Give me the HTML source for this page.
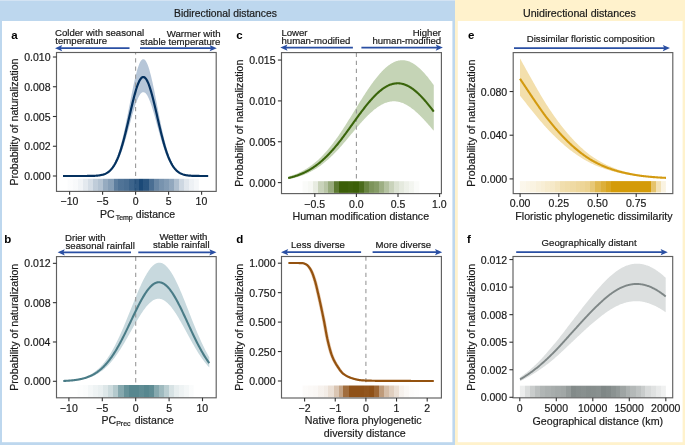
<!DOCTYPE html><html><head><meta charset="utf-8"><style>html,body{margin:0;padding:0;background:#fff}svg{display:block;will-change:transform}text{font-family:"Liberation Sans",sans-serif}</style></head><body>
<svg width="685" height="445" viewBox="0 0 685 445">
<rect x="0" y="0" width="455" height="445" fill="#bdd7ee"/>
<rect x="0" y="0" width="455" height="1" fill="#d3e3f3"/>
<rect x="455" y="0" width="230" height="445" fill="#fff2cc"/>
<rect x="2" y="21" width="450.4" height="421.2" fill="#fff"/>
<rect x="457.8" y="21" width="224.8" height="421.2" fill="#fff"/>
<text x="174.05" y="16.50" font-size="10.60" textLength="102.82" lengthAdjust="spacingAndGlyphs" fill="#1a1a1a" stroke="#1a1a1a" stroke-width="0.20">Bidirectional distances</text>
<text x="522.98" y="16.50" font-size="10.60" textLength="112.81" lengthAdjust="spacingAndGlyphs" fill="#1a1a1a" stroke="#1a1a1a" stroke-width="0.20">Unidirectional distances</text>
<text x="11.36" y="39.00" font-size="11.50" font-weight="bold" fill="#000">a</text>
<text x="4.14" y="243.00" font-size="11.50" font-weight="bold" fill="#000">b</text>
<text x="236.35" y="39.00" font-size="11.50" font-weight="bold" fill="#000">c</text>
<text x="236.33" y="243.00" font-size="11.50" font-weight="bold" fill="#000">d</text>
<text x="468.05" y="39.00" font-size="11.50" font-weight="bold" fill="#000">e</text>
<text x="467.00" y="243.00" font-size="11.50" font-weight="bold" fill="#000">f</text>
<path d="M63.00,176.00 L63.61,176.00 L64.22,176.00 L64.82,176.00 L65.43,176.00 L66.04,176.00 L66.65,176.00 L67.25,176.00 L67.86,176.00 L68.47,176.00 L69.08,176.00 L69.68,176.00 L70.29,176.00 L70.90,176.00 L71.51,176.00 L72.11,176.00 L72.72,176.00 L73.33,176.00 L73.94,176.00 L74.54,176.00 L75.15,176.00 L75.76,176.00 L76.37,176.00 L76.97,176.00 L77.58,176.00 L78.19,176.00 L78.80,176.00 L79.40,176.00 L80.01,176.00 L80.62,176.00 L81.23,176.00 L81.83,175.99 L82.44,175.99 L83.05,175.99 L83.66,175.99 L84.26,175.99 L84.87,175.99 L85.48,175.98 L86.09,175.98 L86.69,175.97 L87.30,175.97 L87.91,175.96 L88.52,175.96 L89.12,175.95 L89.73,175.94 L90.34,175.93 L90.95,175.91 L91.55,175.90 L92.16,175.88 L92.77,175.86 L93.38,175.83 L93.98,175.80 L94.59,175.77 L95.20,175.73 L95.81,175.69 L96.41,175.64 L97.02,175.58 L97.63,175.51 L98.24,175.43 L98.84,175.35 L99.45,175.25 L100.06,175.14 L100.67,175.01 L101.27,174.87 L101.88,174.71 L102.49,174.53 L103.10,174.32 L103.70,174.09 L104.31,173.84 L104.92,173.56 L105.53,173.24 L106.13,172.89 L106.74,172.50 L107.35,172.07 L107.96,171.60 L108.56,171.08 L109.17,170.51 L109.78,169.88 L110.39,169.20 L110.99,168.45 L111.60,167.64 L112.21,166.76 L112.82,165.81 L113.43,164.78 L114.03,163.67 L114.64,162.47 L115.25,161.19 L115.86,159.82 L116.46,158.36 L117.07,156.80 L117.68,155.15 L118.29,153.39 L118.89,151.54 L119.50,149.58 L120.11,147.53 L120.72,145.37 L121.32,143.11 L121.93,140.76 L122.54,138.31 L123.15,135.77 L123.75,133.14 L124.36,130.43 L124.97,127.63 L125.58,124.77 L126.18,121.84 L126.79,118.86 L127.40,115.83 L128.01,112.76 L128.61,109.66 L129.22,106.54 L129.83,103.42 L130.44,100.31 L131.04,97.22 L131.65,94.15 L132.26,91.14 L132.87,88.18 L133.47,85.30 L134.08,82.50 L134.69,79.80 L135.30,77.22 L135.90,74.76 L136.51,72.44 L137.12,70.28 L137.73,68.28 L138.33,66.45 L138.94,64.81 L139.55,63.36 L140.16,62.12 L140.76,61.08 L141.37,60.26 L141.98,59.66 L142.59,59.28 L143.19,59.13 L143.80,59.20 L144.41,59.50 L145.02,60.02 L145.62,60.77 L146.23,61.73 L146.84,62.90 L147.45,64.28 L148.05,65.86 L148.66,67.62 L149.27,69.56 L149.88,71.67 L150.48,73.94 L151.09,76.35 L151.70,78.89 L152.31,81.55 L152.91,84.31 L153.52,87.17 L154.13,90.10 L154.74,93.10 L155.34,96.14 L155.95,99.23 L156.56,102.34 L157.17,105.46 L157.77,108.57 L158.38,111.68 L158.99,114.76 L159.60,117.81 L160.21,120.81 L160.81,123.76 L161.42,126.64 L162.03,129.46 L162.64,132.20 L163.24,134.86 L163.85,137.44 L164.46,139.92 L165.07,142.30 L165.67,144.60 L166.28,146.79 L166.89,148.88 L167.50,150.87 L168.10,152.76 L168.71,154.55 L169.32,156.24 L169.93,157.83 L170.53,159.32 L171.14,160.73 L171.75,162.04 L172.36,163.26 L172.96,164.40 L173.57,165.46 L174.18,166.44 L174.79,167.34 L175.39,168.18 L176.00,168.95 L176.61,169.65 L177.22,170.30 L177.82,170.89 L178.43,171.42 L179.04,171.91 L179.65,172.36 L180.25,172.76 L180.86,173.12 L181.47,173.45 L182.08,173.74 L182.68,174.01 L183.29,174.25 L183.90,174.46 L184.51,174.65 L185.11,174.81 L185.72,174.96 L186.33,175.10 L186.94,175.21 L187.54,175.32 L188.15,175.41 L188.76,175.49 L189.37,175.56 L189.97,175.62 L190.58,175.67 L191.19,175.72 L191.80,175.76 L192.40,175.79 L193.01,175.82 L193.62,175.85 L194.23,175.87 L194.83,175.89 L195.44,175.91 L196.05,175.92 L196.66,175.93 L197.26,175.94 L197.87,175.95 L198.48,175.96 L199.09,175.97 L199.69,175.97 L200.30,175.98 L200.91,175.98 L201.52,175.98 L202.12,175.99 L202.73,175.99 L203.34,175.99 L203.95,175.99 L204.55,175.99 L205.16,175.99 L205.77,176.00 L206.38,176.00 L206.98,176.00 L207.59,176.00 L208.20,176.00 L208.20,176.00 L207.59,176.00 L206.98,176.00 L206.38,176.00 L205.77,176.00 L205.16,176.00 L204.55,176.00 L203.95,175.99 L203.34,175.99 L202.73,175.99 L202.12,175.99 L201.52,175.99 L200.91,175.99 L200.30,175.98 L199.69,175.98 L199.09,175.98 L198.48,175.97 L197.87,175.97 L197.26,175.96 L196.66,175.95 L196.05,175.94 L195.44,175.93 L194.83,175.92 L194.23,175.91 L193.62,175.89 L193.01,175.87 L192.40,175.85 L191.80,175.83 L191.19,175.80 L190.58,175.76 L189.97,175.72 L189.37,175.68 L188.76,175.63 L188.15,175.57 L187.54,175.51 L186.94,175.43 L186.33,175.35 L185.72,175.26 L185.11,175.15 L184.51,175.03 L183.90,174.89 L183.29,174.74 L182.68,174.57 L182.08,174.38 L181.47,174.17 L180.86,173.94 L180.25,173.67 L179.65,173.39 L179.04,173.07 L178.43,172.72 L177.82,172.33 L177.22,171.91 L176.61,171.44 L176.00,170.94 L175.39,170.39 L174.79,169.79 L174.18,169.14 L173.57,168.44 L172.96,167.68 L172.36,166.86 L171.75,165.98 L171.14,165.04 L170.53,164.04 L169.93,162.96 L169.32,161.82 L168.71,160.61 L168.10,159.32 L167.50,157.97 L166.89,156.54 L166.28,155.04 L165.67,153.47 L165.07,151.82 L164.46,150.11 L163.85,148.33 L163.24,146.48 L162.64,144.58 L162.03,142.61 L161.42,140.59 L160.81,138.52 L160.21,136.40 L159.60,134.25 L158.99,132.06 L158.38,129.85 L157.77,127.62 L157.17,125.39 L156.56,123.15 L155.95,120.92 L155.34,118.70 L154.74,116.52 L154.13,114.37 L153.52,112.26 L152.91,110.21 L152.31,108.23 L151.70,106.32 L151.09,104.50 L150.48,102.77 L149.88,101.15 L149.27,99.63 L148.66,98.24 L148.05,96.97 L147.45,95.84 L146.84,94.86 L146.23,94.01 L145.62,93.32 L145.02,92.79 L144.41,92.41 L143.80,92.20 L143.19,92.14 L142.59,92.25 L141.98,92.53 L141.37,92.96 L140.76,93.55 L140.16,94.29 L139.55,95.18 L138.94,96.22 L138.33,97.40 L137.73,98.71 L137.12,100.15 L136.51,101.70 L135.90,103.36 L135.30,105.12 L134.69,106.98 L134.08,108.91 L133.47,110.92 L132.87,112.99 L132.26,115.11 L131.65,117.28 L131.04,119.47 L130.44,121.69 L129.83,123.93 L129.22,126.17 L128.61,128.40 L128.01,130.62 L127.40,132.83 L126.79,135.00 L126.18,137.14 L125.58,139.24 L124.97,141.30 L124.36,143.30 L123.75,145.25 L123.15,147.13 L122.54,148.96 L121.93,150.72 L121.32,152.40 L120.72,154.02 L120.11,155.57 L119.50,157.05 L118.89,158.45 L118.29,159.78 L117.68,161.04 L117.07,162.23 L116.46,163.34 L115.86,164.39 L115.25,165.38 L114.64,166.30 L114.03,167.15 L113.43,167.95 L112.82,168.69 L112.21,169.37 L111.60,170.00 L110.99,170.59 L110.39,171.12 L109.78,171.61 L109.17,172.06 L108.56,172.47 L107.96,172.84 L107.35,173.18 L106.74,173.49 L106.13,173.77 L105.53,174.02 L104.92,174.25 L104.31,174.45 L103.70,174.63 L103.10,174.80 L102.49,174.94 L101.88,175.07 L101.27,175.19 L100.67,175.29 L100.06,175.38 L99.45,175.46 L98.84,175.53 L98.24,175.59 L97.63,175.65 L97.02,175.70 L96.41,175.74 L95.81,175.78 L95.20,175.81 L94.59,175.83 L93.98,175.86 L93.38,175.88 L92.77,175.90 L92.16,175.91 L91.55,175.93 L90.95,175.94 L90.34,175.95 L89.73,175.96 L89.12,175.96 L88.52,175.97 L87.91,175.97 L87.30,175.98 L86.69,175.98 L86.09,175.98 L85.48,175.99 L84.87,175.99 L84.26,175.99 L83.66,175.99 L83.05,175.99 L82.44,175.99 L81.83,176.00 L81.23,176.00 L80.62,176.00 L80.01,176.00 L79.40,176.00 L78.80,176.00 L78.19,176.00 L77.58,176.00 L76.97,176.00 L76.37,176.00 L75.76,176.00 L75.15,176.00 L74.54,176.00 L73.94,176.00 L73.33,176.00 L72.72,176.00 L72.11,176.00 L71.51,176.00 L70.90,176.00 L70.29,176.00 L69.68,176.00 L69.08,176.00 L68.47,176.00 L67.86,176.00 L67.25,176.00 L66.65,176.00 L66.04,176.00 L65.43,176.00 L64.82,176.00 L64.22,176.00 L63.61,176.00 L63.00,176.00 Z" fill="#b6c6d8" fill-opacity="1.000"/>
<line x1="135.60" y1="52.50" x2="135.60" y2="191.40" stroke="#999999" stroke-width="1.1" stroke-dasharray="4.3 3.8" stroke-dashoffset="2.30"/>
<defs><linearGradient id="rg1" gradientUnits="userSpaceOnUse" x1="67.60" y1="0" x2="198.90" y2="0"><stop offset="0.00000" stop-color="#1b4977" stop-opacity="0.014"/><stop offset="0.04037" stop-color="#1b4977" stop-opacity="0.014"/><stop offset="0.04037" stop-color="#1b4977" stop-opacity="0.029"/><stop offset="0.07997" stop-color="#1b4977" stop-opacity="0.029"/><stop offset="0.07997" stop-color="#1b4977" stop-opacity="0.060"/><stop offset="0.12034" stop-color="#1b4977" stop-opacity="0.060"/><stop offset="0.12034" stop-color="#1b4977" stop-opacity="0.119"/><stop offset="0.15537" stop-color="#1b4977" stop-opacity="0.119"/><stop offset="0.15537" stop-color="#1b4977" stop-opacity="0.183"/><stop offset="0.19573" stop-color="#1b4977" stop-opacity="0.183"/><stop offset="0.19573" stop-color="#1b4977" stop-opacity="0.276"/><stop offset="0.23153" stop-color="#1b4977" stop-opacity="0.276"/><stop offset="0.23153" stop-color="#1b4977" stop-opacity="0.330"/><stop offset="0.27113" stop-color="#1b4977" stop-opacity="0.330"/><stop offset="0.27113" stop-color="#1b4977" stop-opacity="0.461"/><stop offset="0.31150" stop-color="#1b4977" stop-opacity="0.461"/><stop offset="0.31150" stop-color="#1b4977" stop-opacity="0.528"/><stop offset="0.35110" stop-color="#1b4977" stop-opacity="0.528"/><stop offset="0.35110" stop-color="#1b4977" stop-opacity="0.708"/><stop offset="0.38690" stop-color="#1b4977" stop-opacity="0.708"/><stop offset="0.38690" stop-color="#1b4977" stop-opacity="0.769"/><stop offset="0.42727" stop-color="#1b4977" stop-opacity="0.769"/><stop offset="0.42727" stop-color="#1b4977" stop-opacity="0.794"/><stop offset="0.46687" stop-color="#1b4977" stop-opacity="0.794"/><stop offset="0.46687" stop-color="#1b4977" stop-opacity="0.853"/><stop offset="0.50647" stop-color="#1b4977" stop-opacity="0.853"/><stop offset="0.50647" stop-color="#1b4977" stop-opacity="0.903"/><stop offset="0.54227" stop-color="#1b4977" stop-opacity="0.903"/><stop offset="0.54227" stop-color="#1b4977" stop-opacity="1.000"/><stop offset="0.57730" stop-color="#1b4977" stop-opacity="1.000"/><stop offset="0.57730" stop-color="#1b4977" stop-opacity="0.935"/><stop offset="0.61767" stop-color="#1b4977" stop-opacity="0.935"/><stop offset="0.61767" stop-color="#1b4977" stop-opacity="0.794"/><stop offset="0.65804" stop-color="#1b4977" stop-opacity="0.794"/><stop offset="0.65804" stop-color="#1b4977" stop-opacity="0.665"/><stop offset="0.69307" stop-color="#1b4977" stop-opacity="0.665"/><stop offset="0.69307" stop-color="#1b4977" stop-opacity="0.593"/><stop offset="0.73343" stop-color="#1b4977" stop-opacity="0.593"/><stop offset="0.73343" stop-color="#1b4977" stop-opacity="0.547"/><stop offset="0.77304" stop-color="#1b4977" stop-opacity="0.547"/><stop offset="0.77304" stop-color="#1b4977" stop-opacity="0.480"/><stop offset="0.80883" stop-color="#1b4977" stop-opacity="0.480"/><stop offset="0.80883" stop-color="#1b4977" stop-opacity="0.351"/><stop offset="0.84920" stop-color="#1b4977" stop-opacity="0.351"/><stop offset="0.84920" stop-color="#1b4977" stop-opacity="0.219"/><stop offset="0.88880" stop-color="#1b4977" stop-opacity="0.219"/><stop offset="0.88880" stop-color="#1b4977" stop-opacity="0.133"/><stop offset="0.92460" stop-color="#1b4977" stop-opacity="0.133"/><stop offset="0.92460" stop-color="#1b4977" stop-opacity="0.076"/><stop offset="0.96497" stop-color="#1b4977" stop-opacity="0.076"/><stop offset="0.96497" stop-color="#1b4977" stop-opacity="0.044"/><stop offset="1.00000" stop-color="#1b4977" stop-opacity="0.044"/></linearGradient></defs>
<rect x="67.60" y="178.80" width="131.30" height="12.10" fill="url(#rg1)"/>
<path d="M63.00,176.00 L63.61,176.00 L64.22,176.00 L64.82,176.00 L65.43,176.00 L66.04,176.00 L66.65,176.00 L67.25,176.00 L67.86,176.00 L68.47,176.00 L69.08,176.00 L69.68,176.00 L70.29,176.00 L70.90,176.00 L71.51,176.00 L72.11,176.00 L72.72,176.00 L73.33,176.00 L73.94,176.00 L74.54,176.00 L75.15,176.00 L75.76,176.00 L76.37,176.00 L76.97,176.00 L77.58,176.00 L78.19,176.00 L78.80,176.00 L79.40,176.00 L80.01,176.00 L80.62,176.00 L81.23,176.00 L81.83,176.00 L82.44,175.99 L83.05,175.99 L83.66,175.99 L84.26,175.99 L84.87,175.99 L85.48,175.98 L86.09,175.98 L86.69,175.98 L87.30,175.97 L87.91,175.97 L88.52,175.96 L89.12,175.96 L89.73,175.95 L90.34,175.94 L90.95,175.93 L91.55,175.91 L92.16,175.90 L92.77,175.88 L93.38,175.86 L93.98,175.83 L94.59,175.80 L95.20,175.77 L95.81,175.73 L96.41,175.69 L97.02,175.64 L97.63,175.59 L98.24,175.52 L98.84,175.45 L99.45,175.36 L100.06,175.27 L100.67,175.16 L101.27,175.04 L101.88,174.90 L102.49,174.75 L103.10,174.58 L103.70,174.39 L104.31,174.17 L104.92,173.93 L105.53,173.66 L106.13,173.37 L106.74,173.04 L107.35,172.67 L107.96,172.27 L108.56,171.83 L109.17,171.35 L109.78,170.82 L110.39,170.24 L110.99,169.61 L111.60,168.92 L112.21,168.17 L112.82,167.37 L113.43,166.49 L114.03,165.55 L114.64,164.54 L115.25,163.46 L115.86,162.30 L116.46,161.06 L117.07,159.74 L117.68,158.34 L118.29,156.85 L118.89,155.28 L119.50,153.62 L120.11,151.88 L120.72,150.06 L121.32,148.14 L121.93,146.15 L122.54,144.08 L123.15,141.92 L123.75,139.69 L124.36,137.40 L124.97,135.03 L125.58,132.61 L126.18,130.13 L126.79,127.60 L127.40,125.03 L128.01,122.43 L128.61,119.81 L129.22,117.17 L129.83,114.52 L130.44,111.89 L131.04,109.27 L131.65,106.67 L132.26,104.12 L132.87,101.61 L133.47,99.17 L134.08,96.80 L134.69,94.51 L135.30,92.33 L135.90,90.25 L136.51,88.28 L137.12,86.45 L137.73,84.75 L138.33,83.21 L138.94,81.82 L139.55,80.59 L140.16,79.54 L140.76,78.66 L141.37,77.96 L141.98,77.45 L142.59,77.13 L143.19,77.00 L143.80,77.07 L144.41,77.32 L145.02,77.76 L145.62,78.39 L146.23,79.21 L146.84,80.20 L147.45,81.37 L148.05,82.70 L148.66,84.20 L149.27,85.84 L149.88,87.63 L150.48,89.55 L151.09,91.59 L151.70,93.74 L152.31,95.99 L152.91,98.33 L153.52,100.75 L154.13,103.24 L154.74,105.78 L155.34,108.36 L155.95,110.97 L156.56,113.60 L157.17,116.25 L157.77,118.89 L158.38,121.52 L158.99,124.13 L159.60,126.71 L160.21,129.25 L160.81,131.75 L161.42,134.19 L162.03,136.58 L162.64,138.90 L163.24,141.15 L163.85,143.33 L164.46,145.44 L165.07,147.46 L165.67,149.40 L166.28,151.26 L166.89,153.03 L167.50,154.71 L168.10,156.31 L168.71,157.83 L169.32,159.26 L169.93,160.61 L170.53,161.87 L171.14,163.06 L171.75,164.17 L172.36,165.21 L172.96,166.17 L173.57,167.07 L174.18,167.90 L174.79,168.67 L175.39,169.37 L176.00,170.03 L176.61,170.62 L177.22,171.17 L177.82,171.67 L178.43,172.12 L179.04,172.54 L179.65,172.91 L180.25,173.25 L180.86,173.56 L181.47,173.84 L182.08,174.09 L182.68,174.31 L183.29,174.51 L183.90,174.69 L184.51,174.85 L185.11,175.00 L185.72,175.12 L186.33,175.23 L186.94,175.33 L187.54,175.42 L188.15,175.50 L188.76,175.56 L189.37,175.62 L189.97,175.68 L190.58,175.72 L191.19,175.76 L191.80,175.79 L192.40,175.82 L193.01,175.85 L193.62,175.87 L194.23,175.89 L194.83,175.91 L195.44,175.92 L196.05,175.93 L196.66,175.94 L197.26,175.95 L197.87,175.96 L198.48,175.97 L199.09,175.97 L199.69,175.98 L200.30,175.98 L200.91,175.98 L201.52,175.99 L202.12,175.99 L202.73,175.99 L203.34,175.99 L203.95,175.99 L204.55,175.99 L205.16,176.00 L205.77,176.00 L206.38,176.00 L206.98,176.00 L207.59,176.00 L208.20,176.00" fill="none" stroke="#04315f" stroke-width="2.20" stroke-linejoin="round" stroke-linecap="butt"/>
<rect x="56.50" y="52.50" width="159.70" height="138.90" fill="none" stroke="#5f5f5f" stroke-width="1.15"/>
<line x1="52.90" y1="176.00" x2="56.50" y2="176.00" stroke="#333333" stroke-width="1.1"/>
<text x="24.17" y="180.00" font-size="11.00" textLength="26.34" lengthAdjust="spacingAndGlyphs" fill="#1a1a1a" stroke="#1a1a1a" stroke-width="0.20">0.000</text>
<line x1="52.90" y1="146.25" x2="56.50" y2="146.25" stroke="#333333" stroke-width="1.1"/>
<text x="24.29" y="150.25" font-size="11.00" textLength="26.34" lengthAdjust="spacingAndGlyphs" fill="#1a1a1a" stroke="#1a1a1a" stroke-width="0.20">0.002</text>
<line x1="52.90" y1="116.50" x2="56.50" y2="116.50" stroke="#333333" stroke-width="1.1"/>
<text x="24.20" y="120.50" font-size="11.00" textLength="26.34" lengthAdjust="spacingAndGlyphs" fill="#1a1a1a" stroke="#1a1a1a" stroke-width="0.20">0.005</text>
<line x1="52.90" y1="86.75" x2="56.50" y2="86.75" stroke="#333333" stroke-width="1.1"/>
<text x="24.21" y="90.75" font-size="11.00" textLength="26.34" lengthAdjust="spacingAndGlyphs" fill="#1a1a1a" stroke="#1a1a1a" stroke-width="0.20">0.008</text>
<line x1="52.90" y1="57.00" x2="56.50" y2="57.00" stroke="#333333" stroke-width="1.1"/>
<text x="24.17" y="61.00" font-size="11.00" textLength="26.34" lengthAdjust="spacingAndGlyphs" fill="#1a1a1a" stroke="#1a1a1a" stroke-width="0.20">0.010</text>
<line x1="69.60" y1="191.40" x2="69.60" y2="194.80" stroke="#333333" stroke-width="1.1"/>
<text x="60.62" y="205.40" font-size="11.00" textLength="17.86" lengthAdjust="spacingAndGlyphs" fill="#1a1a1a" stroke="#1a1a1a" stroke-width="0.20">−10</text>
<line x1="102.60" y1="191.40" x2="102.60" y2="194.80" stroke="#333333" stroke-width="1.1"/>
<text x="96.56" y="205.40" font-size="11.00" textLength="12.00" lengthAdjust="spacingAndGlyphs" fill="#1a1a1a" stroke="#1a1a1a" stroke-width="0.20">−5</text>
<line x1="135.60" y1="191.40" x2="135.60" y2="194.80" stroke="#333333" stroke-width="1.1"/>
<text x="132.67" y="205.40" font-size="11.00" textLength="5.85" lengthAdjust="spacingAndGlyphs" fill="#1a1a1a" stroke="#1a1a1a" stroke-width="0.20">0</text>
<line x1="168.60" y1="191.40" x2="168.60" y2="194.80" stroke="#333333" stroke-width="1.1"/>
<text x="165.68" y="205.40" font-size="11.00" textLength="5.85" lengthAdjust="spacingAndGlyphs" fill="#1a1a1a" stroke="#1a1a1a" stroke-width="0.20">5</text>
<line x1="201.60" y1="191.40" x2="201.60" y2="194.80" stroke="#333333" stroke-width="1.1"/>
<text x="195.55" y="205.40" font-size="11.00" textLength="11.71" lengthAdjust="spacingAndGlyphs" fill="#1a1a1a" stroke="#1a1a1a" stroke-width="0.20">10</text>
<text transform="translate(18.00,122.00) rotate(-90)" x="-63.62" y="0" font-size="11.00" textLength="127.06" lengthAdjust="spacingAndGlyphs" fill="#1a1a1a" stroke="#1a1a1a" stroke-width="0.20">Probability of naturalization</text>
<text x="100.04" y="218.30" font-size="11.00" textLength="14.62" lengthAdjust="spacingAndGlyphs" fill="#1a1a1a" stroke="#1a1a1a" stroke-width="0.20">PC</text>
<text x="115.64" y="220.40" font-size="7.00" fill="#1a1a1a" stroke="#1a1a1a" stroke-width="0.20">Temp</text>
<text x="135.86" y="218.30" font-size="11.00" textLength="39.21" lengthAdjust="spacingAndGlyphs" fill="#1a1a1a" stroke="#1a1a1a" stroke-width="0.20">distance</text>
<text x="55.01" y="35.50" font-size="9.75" textLength="89.11" lengthAdjust="spacingAndGlyphs" fill="#1a1a1a" stroke="#1a1a1a" stroke-width="0.20">Colder with seasonal</text>
<text x="55.35" y="43.60" font-size="9.75" textLength="51.76" lengthAdjust="spacingAndGlyphs" fill="#1a1a1a" stroke="#1a1a1a" stroke-width="0.20">temperature</text>
<text x="166.65" y="36.60" font-size="9.75" textLength="53.87" lengthAdjust="spacingAndGlyphs" fill="#1a1a1a" stroke="#1a1a1a" stroke-width="0.20">Warmer with</text>
<text x="140.28" y="45.30" font-size="9.75" textLength="80.04" lengthAdjust="spacingAndGlyphs" fill="#1a1a1a" stroke="#1a1a1a" stroke-width="0.20">stable temperature</text>
<line x1="60.00" y1="48.20" x2="129.50" y2="48.20" stroke="#2a4fa3" stroke-width="1.8"/>
<path d="M55.00,48.20 L62.20,45.10 L60.70,48.20 L62.20,51.30 Z" fill="#2a4fa3"/>
<line x1="140.00" y1="48.20" x2="211.80" y2="48.20" stroke="#2a4fa3" stroke-width="1.8"/>
<path d="M216.80,48.20 L209.60,45.10 L211.10,48.20 L209.60,51.30 Z" fill="#2a4fa3"/>
<path d="M63.30,380.84 L63.91,380.81 L64.52,380.77 L65.13,380.73 L65.74,380.69 L66.35,380.65 L66.97,380.61 L67.58,380.56 L68.19,380.51 L68.80,380.45 L69.41,380.39 L70.02,380.33 L70.63,380.27 L71.24,380.20 L71.85,380.12 L72.46,380.05 L73.07,379.97 L73.68,379.88 L74.30,379.79 L74.91,379.69 L75.52,379.59 L76.13,379.48 L76.74,379.37 L77.35,379.25 L77.96,379.12 L78.57,378.99 L79.18,378.84 L79.79,378.70 L80.40,378.54 L81.02,378.38 L81.63,378.20 L82.24,378.02 L82.85,377.83 L83.46,377.64 L84.07,377.43 L84.68,377.21 L85.29,376.98 L85.90,376.74 L86.51,376.49 L87.12,376.22 L87.74,375.95 L88.35,375.66 L88.96,375.36 L89.57,375.05 L90.18,374.72 L90.79,374.38 L91.40,374.02 L92.01,373.65 L92.62,373.27 L93.23,372.87 L93.84,372.45 L94.45,372.01 L95.07,371.56 L95.68,371.09 L96.29,370.61 L96.90,370.10 L97.51,369.58 L98.12,369.04 L98.73,368.47 L99.34,367.89 L99.95,367.29 L100.56,366.67 L101.17,366.03 L101.79,365.36 L102.40,364.68 L103.01,363.97 L103.62,363.24 L104.23,362.49 L104.84,361.71 L105.45,360.92 L106.06,360.10 L106.67,359.25 L107.28,358.39 L107.89,357.50 L108.51,356.58 L109.12,355.64 L109.73,354.68 L110.34,353.70 L110.95,352.69 L111.56,351.66 L112.17,350.60 L112.78,349.52 L113.39,348.42 L114.00,347.29 L114.61,346.14 L115.22,344.97 L115.84,343.78 L116.45,342.56 L117.06,341.33 L117.67,340.07 L118.28,338.79 L118.89,337.49 L119.50,336.17 L120.11,334.83 L120.72,333.48 L121.33,332.10 L121.94,330.71 L122.56,329.31 L123.17,327.88 L123.78,326.45 L124.39,325.00 L125.00,323.54 L125.61,322.06 L126.22,320.58 L126.83,319.08 L127.44,317.58 L128.05,316.07 L128.66,314.56 L129.27,313.04 L129.89,311.52 L130.50,309.99 L131.11,308.47 L131.72,306.94 L132.33,305.42 L132.94,303.90 L133.55,302.38 L134.16,300.87 L134.77,299.37 L135.38,297.88 L135.99,296.40 L136.61,294.93 L137.22,293.48 L137.83,292.04 L138.44,290.62 L139.05,289.22 L139.66,287.83 L140.27,286.47 L140.88,285.14 L141.49,283.82 L142.10,282.54 L142.71,281.28 L143.33,280.05 L143.94,278.85 L144.55,277.68 L145.16,276.55 L145.77,275.46 L146.38,274.39 L146.99,273.37 L147.60,272.39 L148.21,271.44 L148.82,270.54 L149.43,269.68 L150.04,268.87 L150.66,268.10 L151.27,267.37 L151.88,266.69 L152.49,266.06 L153.10,265.47 L153.71,264.93 L154.32,264.44 L154.93,264.00 L155.54,263.66 L156.15,263.37 L156.76,263.13 L157.38,262.94 L157.99,262.81 L158.60,262.73 L159.21,262.70 L159.82,262.72 L160.43,262.80 L161.04,262.92 L161.65,263.10 L162.26,263.34 L162.87,263.62 L163.48,263.96 L164.09,264.34 L164.71,264.78 L165.32,265.27 L165.93,265.81 L166.54,266.39 L167.15,267.03 L167.76,267.71 L168.37,268.44 L168.98,269.21 L169.59,270.03 L170.20,270.90 L170.81,271.80 L171.43,272.75 L172.04,273.74 L172.65,274.77 L173.26,275.84 L173.87,276.94 L174.48,278.09 L175.09,279.26 L175.70,280.47 L176.31,281.71 L176.92,282.98 L177.53,284.29 L178.15,285.61 L178.76,286.97 L179.37,288.35 L179.98,289.75 L180.59,291.17 L181.20,292.60 L181.81,294.06 L182.42,295.53 L183.03,297.01 L183.64,298.52 L184.25,300.03 L184.86,301.55 L185.48,303.09 L186.09,304.63 L186.70,306.18 L187.31,307.73 L187.92,309.29 L188.53,310.85 L189.14,312.41 L189.75,313.98 L190.36,315.54 L190.97,317.09 L191.58,318.65 L192.20,320.19 L192.81,321.73 L193.42,323.27 L194.03,324.79 L194.64,326.31 L195.25,327.81 L195.86,329.28 L196.47,330.75 L197.08,332.20 L197.69,333.64 L198.30,335.06 L198.92,336.46 L199.53,337.85 L200.14,339.22 L200.75,340.58 L201.36,341.91 L201.97,343.22 L202.58,344.52 L203.19,345.79 L203.80,347.04 L204.41,348.27 L205.02,349.48 L205.63,350.67 L206.25,351.83 L206.86,352.97 L207.47,354.09 L208.08,355.19 L208.69,356.26 L209.30,357.31 L209.30,367.53 L208.69,366.87 L208.08,366.19 L207.47,365.49 L206.86,364.78 L206.25,364.04 L205.63,363.29 L205.02,362.52 L204.41,361.74 L203.80,360.93 L203.19,360.11 L202.58,359.27 L201.97,358.42 L201.36,357.54 L200.75,356.65 L200.14,355.75 L199.53,354.83 L198.92,353.89 L198.30,352.93 L197.69,351.97 L197.08,350.98 L196.47,349.99 L195.86,348.98 L195.25,347.96 L194.64,346.92 L194.03,345.86 L193.42,344.80 L192.81,343.72 L192.20,342.64 L191.58,341.54 L190.97,340.44 L190.36,339.33 L189.75,338.22 L189.14,337.10 L188.53,335.98 L187.92,334.86 L187.31,333.73 L186.70,332.60 L186.09,331.47 L185.48,330.34 L184.86,329.22 L184.25,328.10 L183.64,326.98 L183.03,325.87 L182.42,324.77 L181.81,323.67 L181.20,322.58 L180.59,321.51 L179.98,320.44 L179.37,319.38 L178.76,318.34 L178.15,317.31 L177.53,316.30 L176.92,315.30 L176.31,314.33 L175.70,313.37 L175.09,312.44 L174.48,311.53 L173.87,310.64 L173.26,309.78 L172.65,308.94 L172.04,308.13 L171.43,307.34 L170.81,306.59 L170.20,305.86 L169.59,305.17 L168.98,304.51 L168.37,303.88 L167.76,303.28 L167.15,302.72 L166.54,302.19 L165.93,301.70 L165.32,301.24 L164.71,300.82 L164.09,300.44 L163.48,300.10 L162.87,299.79 L162.26,299.53 L161.65,299.30 L161.04,299.11 L160.43,298.96 L159.82,298.85 L159.21,298.78 L158.60,298.75 L157.99,298.76 L157.38,298.81 L156.76,298.90 L156.15,299.03 L155.54,299.20 L154.93,299.41 L154.32,299.69 L153.71,300.01 L153.10,300.37 L152.49,300.76 L151.88,301.20 L151.27,301.66 L150.66,302.16 L150.04,302.70 L149.43,303.27 L148.82,303.88 L148.21,304.51 L147.60,305.18 L146.99,305.87 L146.38,306.59 L145.77,307.35 L145.16,308.13 L144.55,308.93 L143.94,309.76 L143.33,310.61 L142.71,311.49 L142.10,312.39 L141.49,313.30 L140.88,314.24 L140.27,315.20 L139.66,316.17 L139.05,317.16 L138.44,318.16 L137.83,319.18 L137.22,320.21 L136.61,321.25 L135.99,322.30 L135.38,323.36 L134.77,324.42 L134.16,325.50 L133.55,326.58 L132.94,327.66 L132.33,328.75 L131.72,329.84 L131.11,330.93 L130.50,332.02 L129.89,333.10 L129.27,334.19 L128.66,335.28 L128.05,336.36 L127.44,337.43 L126.83,338.50 L126.22,339.56 L125.61,340.62 L125.00,341.67 L124.39,342.71 L123.78,343.74 L123.17,344.76 L122.56,345.76 L121.94,346.76 L121.33,347.75 L120.72,348.72 L120.11,349.67 L119.50,350.62 L118.89,351.55 L118.28,352.46 L117.67,353.36 L117.06,354.25 L116.45,355.12 L115.84,355.97 L115.22,356.81 L114.61,357.63 L114.00,358.43 L113.39,359.22 L112.78,359.99 L112.17,360.74 L111.56,361.48 L110.95,362.19 L110.34,362.89 L109.73,363.58 L109.12,364.24 L108.51,364.89 L107.89,365.52 L107.28,366.13 L106.67,366.73 L106.06,367.31 L105.45,367.87 L104.84,368.42 L104.23,368.95 L103.62,369.46 L103.01,369.96 L102.40,370.44 L101.79,370.91 L101.17,371.36 L100.56,371.80 L99.95,372.22 L99.34,372.62 L98.73,373.01 L98.12,373.39 L97.51,373.76 L96.90,374.11 L96.29,374.44 L95.68,374.77 L95.07,375.08 L94.45,375.38 L93.84,375.67 L93.23,375.95 L92.62,376.21 L92.01,376.47 L91.40,376.71 L90.79,376.94 L90.18,377.17 L89.57,377.38 L88.96,377.59 L88.35,377.78 L87.74,377.97 L87.12,378.15 L86.51,378.32 L85.90,378.48 L85.29,378.64 L84.68,378.78 L84.07,378.92 L83.46,379.06 L82.85,379.18 L82.24,379.30 L81.63,379.42 L81.02,379.53 L80.40,379.63 L79.79,379.73 L79.18,379.82 L78.57,379.91 L77.96,379.99 L77.35,380.07 L76.74,380.15 L76.13,380.22 L75.52,380.29 L74.91,380.35 L74.30,380.41 L73.68,380.47 L73.07,380.52 L72.46,380.57 L71.85,380.62 L71.24,380.66 L70.63,380.70 L70.02,380.74 L69.41,380.78 L68.80,380.81 L68.19,380.85 L67.58,380.88 L66.97,380.91 L66.35,380.93 L65.74,380.96 L65.13,380.98 L64.52,381.00 L63.91,381.02 L63.30,381.04 Z" fill="#c8d9de" fill-opacity="1.000"/>
<line x1="135.70" y1="256.60" x2="135.70" y2="397.80" stroke="#999999" stroke-width="1.1" stroke-dasharray="4.3 3.8" stroke-dashoffset="0.00"/>
<defs><linearGradient id="rg2" gradientUnits="userSpaceOnUse" x1="77.60" y1="0" x2="193.70" y2="0"><stop offset="0.00000" stop-color="#57878f" stop-opacity="0.016"/><stop offset="0.04565" stop-color="#57878f" stop-opacity="0.016"/><stop offset="0.04565" stop-color="#57878f" stop-opacity="0.027"/><stop offset="0.09044" stop-color="#57878f" stop-opacity="0.027"/><stop offset="0.09044" stop-color="#57878f" stop-opacity="0.066"/><stop offset="0.13609" stop-color="#57878f" stop-opacity="0.066"/><stop offset="0.13609" stop-color="#57878f" stop-opacity="0.099"/><stop offset="0.17571" stop-color="#57878f" stop-opacity="0.099"/><stop offset="0.17571" stop-color="#57878f" stop-opacity="0.130"/><stop offset="0.22136" stop-color="#57878f" stop-opacity="0.130"/><stop offset="0.22136" stop-color="#57878f" stop-opacity="0.200"/><stop offset="0.26184" stop-color="#57878f" stop-opacity="0.200"/><stop offset="0.26184" stop-color="#57878f" stop-opacity="0.300"/><stop offset="0.30663" stop-color="#57878f" stop-opacity="0.300"/><stop offset="0.30663" stop-color="#57878f" stop-opacity="0.448"/><stop offset="0.35228" stop-color="#57878f" stop-opacity="0.448"/><stop offset="0.35228" stop-color="#57878f" stop-opacity="0.723"/><stop offset="0.39707" stop-color="#57878f" stop-opacity="0.723"/><stop offset="0.39707" stop-color="#57878f" stop-opacity="0.910"/><stop offset="0.44272" stop-color="#57878f" stop-opacity="0.910"/><stop offset="0.44272" stop-color="#57878f" stop-opacity="1.000"/><stop offset="0.48493" stop-color="#57878f" stop-opacity="1.000"/><stop offset="0.48493" stop-color="#57878f" stop-opacity="1.000"/><stop offset="0.52799" stop-color="#57878f" stop-opacity="1.000"/><stop offset="0.52799" stop-color="#57878f" stop-opacity="0.955"/><stop offset="0.57278" stop-color="#57878f" stop-opacity="0.955"/><stop offset="0.57278" stop-color="#57878f" stop-opacity="1.000"/><stop offset="0.61326" stop-color="#57878f" stop-opacity="1.000"/><stop offset="0.61326" stop-color="#57878f" stop-opacity="0.955"/><stop offset="0.65805" stop-color="#57878f" stop-opacity="0.955"/><stop offset="0.65805" stop-color="#57878f" stop-opacity="0.723"/><stop offset="0.69854" stop-color="#57878f" stop-opacity="0.723"/><stop offset="0.69854" stop-color="#57878f" stop-opacity="0.574"/><stop offset="0.74419" stop-color="#57878f" stop-opacity="0.574"/><stop offset="0.74419" stop-color="#57878f" stop-opacity="0.415"/><stop offset="0.78381" stop-color="#57878f" stop-opacity="0.415"/><stop offset="0.78381" stop-color="#57878f" stop-opacity="0.238"/><stop offset="0.82946" stop-color="#57878f" stop-opacity="0.238"/><stop offset="0.82946" stop-color="#57878f" stop-opacity="0.144"/><stop offset="0.87425" stop-color="#57878f" stop-opacity="0.144"/><stop offset="0.87425" stop-color="#57878f" stop-opacity="0.099"/><stop offset="0.91473" stop-color="#57878f" stop-opacity="0.099"/><stop offset="0.91473" stop-color="#57878f" stop-opacity="0.066"/><stop offset="0.96038" stop-color="#57878f" stop-opacity="0.066"/><stop offset="0.96038" stop-color="#57878f" stop-opacity="0.027"/><stop offset="1.00000" stop-color="#57878f" stop-opacity="0.027"/></linearGradient></defs>
<rect x="77.60" y="385.00" width="116.10" height="12.40" fill="url(#rg2)"/>
<path d="M63.30,380.96 L63.91,380.93 L64.52,380.90 L65.13,380.87 L65.74,380.84 L66.35,380.81 L66.97,380.78 L67.58,380.74 L68.19,380.70 L68.80,380.66 L69.41,380.61 L70.02,380.56 L70.63,380.51 L71.24,380.46 L71.85,380.40 L72.46,380.34 L73.07,380.28 L73.68,380.21 L74.30,380.14 L74.91,380.06 L75.52,379.98 L76.13,379.90 L76.74,379.81 L77.35,379.71 L77.96,379.61 L78.57,379.51 L79.18,379.39 L79.79,379.28 L80.40,379.15 L81.02,379.02 L81.63,378.89 L82.24,378.74 L82.85,378.59 L83.46,378.43 L84.07,378.26 L84.68,378.09 L85.29,377.90 L85.90,377.71 L86.51,377.51 L87.12,377.30 L87.74,377.07 L88.35,376.84 L88.96,376.60 L89.57,376.35 L90.18,376.08 L90.79,375.80 L91.40,375.52 L92.01,375.21 L92.62,374.90 L93.23,374.57 L93.84,374.23 L94.45,373.88 L95.07,373.51 L95.68,373.13 L96.29,372.73 L96.90,372.32 L97.51,371.89 L98.12,371.44 L98.73,370.98 L99.34,370.50 L99.95,370.01 L100.56,369.50 L101.17,368.97 L101.79,368.42 L102.40,367.85 L103.01,367.27 L103.62,366.66 L104.23,366.04 L104.84,365.40 L105.45,364.74 L106.06,364.06 L106.67,363.36 L107.28,362.64 L107.89,361.90 L108.51,361.14 L109.12,360.36 L109.73,359.56 L110.34,358.74 L110.95,357.90 L111.56,357.03 L112.17,356.15 L112.78,355.25 L113.39,354.33 L114.00,353.39 L114.61,352.42 L115.22,351.44 L115.84,350.44 L116.45,349.42 L117.06,348.38 L117.67,347.33 L118.28,346.25 L118.89,345.16 L119.50,344.05 L120.11,342.93 L120.72,341.79 L121.33,340.63 L121.94,339.46 L122.56,338.27 L123.17,337.07 L123.78,335.86 L124.39,334.64 L125.00,333.41 L125.61,332.16 L126.22,330.91 L126.83,329.65 L127.44,328.38 L128.05,327.10 L128.66,325.82 L129.27,324.54 L129.89,323.25 L130.50,321.96 L131.11,320.67 L131.72,319.38 L132.33,318.09 L132.94,316.80 L133.55,315.52 L134.16,314.24 L134.77,312.97 L135.38,311.71 L135.99,310.45 L136.61,309.21 L137.22,307.98 L137.83,306.76 L138.44,305.56 L139.05,304.37 L139.66,303.20 L140.27,302.05 L140.88,300.92 L141.49,299.81 L142.10,298.72 L142.71,297.65 L143.33,296.62 L143.94,295.60 L144.55,294.62 L145.16,293.66 L145.77,292.74 L146.38,291.84 L146.99,290.98 L147.60,290.15 L148.21,289.36 L148.82,288.60 L149.43,287.88 L150.04,287.20 L150.66,286.56 L151.27,285.95 L151.88,285.39 L152.49,284.86 L153.10,284.38 L153.71,283.94 L154.32,283.55 L154.93,283.19 L155.54,282.92 L156.15,282.70 L156.76,282.53 L157.38,282.39 L157.99,282.31 L158.60,282.27 L159.21,282.27 L159.82,282.32 L160.43,282.42 L161.04,282.56 L161.65,282.75 L162.26,282.99 L162.87,283.26 L163.48,283.59 L164.09,283.96 L164.71,284.37 L165.32,284.82 L165.93,285.32 L166.54,285.86 L167.15,286.45 L167.76,287.07 L168.37,287.73 L168.98,288.43 L169.59,289.17 L170.20,289.95 L170.81,290.76 L171.43,291.61 L172.04,292.50 L172.65,293.41 L173.26,294.36 L173.87,295.34 L174.48,296.35 L175.09,297.39 L175.70,298.46 L176.31,299.55 L176.92,300.67 L177.53,301.81 L178.15,302.97 L178.76,304.16 L179.37,305.36 L179.98,306.58 L180.59,307.82 L181.20,309.06 L181.81,310.32 L182.42,311.60 L183.03,312.88 L183.64,314.18 L184.25,315.48 L184.86,316.79 L185.48,318.11 L186.09,319.43 L186.70,320.75 L187.31,322.08 L187.92,323.41 L188.53,324.74 L189.14,326.07 L189.75,327.39 L190.36,328.71 L190.97,330.03 L191.58,331.34 L192.20,332.64 L192.81,333.94 L193.42,335.23 L194.03,336.51 L194.64,337.77 L195.25,339.02 L195.86,340.26 L196.47,341.47 L197.08,342.68 L197.69,343.87 L198.30,345.05 L198.92,346.21 L199.53,347.35 L200.14,348.48 L200.75,349.59 L201.36,350.68 L201.97,351.75 L202.58,352.81 L203.19,353.84 L203.80,354.86 L204.41,355.86 L205.02,356.83 L205.63,357.79 L206.25,358.73 L206.86,359.64 L207.47,360.54 L208.08,361.41 L208.69,362.27 L209.30,363.10" fill="none" stroke="#4a7c87" stroke-width="2.10" stroke-linejoin="round" stroke-linecap="butt"/>
<rect x="56.50" y="256.60" width="159.70" height="141.20" fill="none" stroke="#5f5f5f" stroke-width="1.15"/>
<line x1="52.90" y1="381.30" x2="56.50" y2="381.30" stroke="#333333" stroke-width="1.1"/>
<text x="24.17" y="385.30" font-size="11.00" textLength="26.34" lengthAdjust="spacingAndGlyphs" fill="#1a1a1a" stroke="#1a1a1a" stroke-width="0.20">0.000</text>
<line x1="52.90" y1="341.98" x2="56.50" y2="341.98" stroke="#333333" stroke-width="1.1"/>
<text x="24.07" y="345.98" font-size="11.00" textLength="26.34" lengthAdjust="spacingAndGlyphs" fill="#1a1a1a" stroke="#1a1a1a" stroke-width="0.20">0.004</text>
<line x1="52.90" y1="302.66" x2="56.50" y2="302.66" stroke="#333333" stroke-width="1.1"/>
<text x="24.21" y="306.66" font-size="11.00" textLength="26.34" lengthAdjust="spacingAndGlyphs" fill="#1a1a1a" stroke="#1a1a1a" stroke-width="0.20">0.008</text>
<line x1="52.90" y1="263.34" x2="56.50" y2="263.34" stroke="#333333" stroke-width="1.1"/>
<text x="24.29" y="267.34" font-size="11.00" textLength="26.34" lengthAdjust="spacingAndGlyphs" fill="#1a1a1a" stroke="#1a1a1a" stroke-width="0.20">0.012</text>
<line x1="68.90" y1="397.80" x2="68.90" y2="401.20" stroke="#333333" stroke-width="1.1"/>
<text x="59.92" y="411.70" font-size="11.00" textLength="17.86" lengthAdjust="spacingAndGlyphs" fill="#1a1a1a" stroke="#1a1a1a" stroke-width="0.20">−10</text>
<line x1="102.30" y1="397.80" x2="102.30" y2="401.20" stroke="#333333" stroke-width="1.1"/>
<text x="96.26" y="411.70" font-size="11.00" textLength="12.00" lengthAdjust="spacingAndGlyphs" fill="#1a1a1a" stroke="#1a1a1a" stroke-width="0.20">−5</text>
<line x1="135.70" y1="397.80" x2="135.70" y2="401.20" stroke="#333333" stroke-width="1.1"/>
<text x="132.77" y="411.70" font-size="11.00" textLength="5.85" lengthAdjust="spacingAndGlyphs" fill="#1a1a1a" stroke="#1a1a1a" stroke-width="0.20">0</text>
<line x1="169.10" y1="397.80" x2="169.10" y2="401.20" stroke="#333333" stroke-width="1.1"/>
<text x="166.18" y="411.70" font-size="11.00" textLength="5.85" lengthAdjust="spacingAndGlyphs" fill="#1a1a1a" stroke="#1a1a1a" stroke-width="0.20">5</text>
<line x1="202.50" y1="397.80" x2="202.50" y2="401.20" stroke="#333333" stroke-width="1.1"/>
<text x="196.45" y="411.70" font-size="11.00" textLength="11.71" lengthAdjust="spacingAndGlyphs" fill="#1a1a1a" stroke="#1a1a1a" stroke-width="0.20">10</text>
<text transform="translate(18.00,327.20) rotate(-90)" x="-63.62" y="0" font-size="11.00" textLength="127.06" lengthAdjust="spacingAndGlyphs" fill="#1a1a1a" stroke="#1a1a1a" stroke-width="0.20">Probability of naturalization</text>
<text x="101.54" y="423.80" font-size="11.00" textLength="14.62" lengthAdjust="spacingAndGlyphs" fill="#1a1a1a" stroke="#1a1a1a" stroke-width="0.20">PC</text>
<text x="116.13" y="425.50" font-size="7.00" fill="#1a1a1a" stroke="#1a1a1a" stroke-width="0.20">Prec</text>
<text x="134.66" y="423.80" font-size="11.00" textLength="39.21" lengthAdjust="spacingAndGlyphs" fill="#1a1a1a" stroke="#1a1a1a" stroke-width="0.20">distance</text>
<text x="65.01" y="240.70" font-size="9.75" textLength="40.54" lengthAdjust="spacingAndGlyphs" fill="#1a1a1a" stroke="#1a1a1a" stroke-width="0.20">Drier with</text>
<text x="65.53" y="249.10" font-size="9.75" textLength="69.38" lengthAdjust="spacingAndGlyphs" fill="#1a1a1a" stroke="#1a1a1a" stroke-width="0.20">seasonal rainfall</text>
<text x="159.46" y="239.50" font-size="9.75" textLength="48.01" lengthAdjust="spacingAndGlyphs" fill="#1a1a1a" stroke="#1a1a1a" stroke-width="0.20">Wetter with</text>
<text x="153.03" y="247.70" font-size="9.75" textLength="56.56" lengthAdjust="spacingAndGlyphs" fill="#1a1a1a" stroke="#1a1a1a" stroke-width="0.20">stable rainfall</text>
<line x1="62.60" y1="252.30" x2="131.00" y2="252.30" stroke="#2a4fa3" stroke-width="1.8"/>
<path d="M57.60,252.30 L64.80,249.20 L63.30,252.30 L64.80,255.40 Z" fill="#2a4fa3"/>
<line x1="138.30" y1="252.30" x2="211.50" y2="252.30" stroke="#2a4fa3" stroke-width="1.8"/>
<path d="M216.50,252.30 L209.30,249.20 L210.80,252.30 L209.30,255.40 Z" fill="#2a4fa3"/>
<path d="M288.18,176.58 L288.79,176.41 L289.39,176.23 L290.00,176.05 L290.61,175.87 L291.22,175.68 L291.83,175.48 L292.44,175.28 L293.05,175.07 L293.66,174.85 L294.27,174.63 L294.88,174.40 L295.49,174.17 L296.10,173.92 L296.70,173.68 L297.31,173.42 L297.92,173.16 L298.53,172.89 L299.14,172.62 L299.75,172.34 L300.36,172.04 L300.97,171.74 L301.58,171.43 L302.19,171.11 L302.80,170.78 L303.41,170.45 L304.02,170.11 L304.62,169.76 L305.23,169.40 L305.84,169.04 L306.45,168.67 L307.06,168.28 L307.67,167.89 L308.28,167.50 L308.89,167.09 L309.50,166.68 L310.11,166.25 L310.72,165.82 L311.33,165.38 L311.93,164.93 L312.54,164.47 L313.15,164.00 L313.76,163.53 L314.37,163.04 L314.98,162.55 L315.59,162.04 L316.20,161.53 L316.81,161.01 L317.42,160.48 L318.03,159.94 L318.64,159.39 L319.25,158.83 L319.85,158.26 L320.46,157.66 L321.07,157.05 L321.68,156.43 L322.29,155.81 L322.90,155.17 L323.51,154.52 L324.12,153.86 L324.73,153.20 L325.34,152.52 L325.95,151.84 L326.56,151.15 L327.17,150.44 L327.77,149.73 L328.38,149.01 L328.99,148.28 L329.60,147.54 L330.21,146.79 L330.82,146.04 L331.43,145.27 L332.04,144.50 L332.65,143.71 L333.26,142.92 L333.87,142.12 L334.48,141.31 L335.08,140.50 L335.69,139.67 L336.30,138.84 L336.91,138.00 L337.52,137.16 L338.13,136.29 L338.74,135.41 L339.35,134.51 L339.96,133.61 L340.57,132.70 L341.18,131.78 L341.79,130.86 L342.40,129.93 L343.00,128.99 L343.61,128.05 L344.22,127.11 L344.83,126.15 L345.44,125.20 L346.05,124.24 L346.66,123.27 L347.27,122.30 L347.88,121.32 L348.49,120.34 L349.10,119.36 L349.71,118.38 L350.31,117.39 L350.92,116.40 L351.53,115.40 L352.14,114.41 L352.75,113.42 L353.36,112.44 L353.97,111.45 L354.58,110.46 L355.19,109.47 L355.80,108.48 L356.41,107.49 L357.02,106.50 L357.63,105.51 L358.23,104.52 L358.84,103.53 L359.45,102.55 L360.06,101.57 L360.67,100.60 L361.28,99.64 L361.89,98.69 L362.50,97.73 L363.11,96.78 L363.72,95.84 L364.33,94.90 L364.94,93.96 L365.55,93.03 L366.15,92.11 L366.76,91.19 L367.37,90.28 L367.98,89.37 L368.59,88.48 L369.20,87.59 L369.81,86.70 L370.42,85.83 L371.03,84.97 L371.64,84.11 L372.25,83.26 L372.86,82.43 L373.46,81.60 L374.07,80.79 L374.68,79.98 L375.29,79.19 L375.90,78.41 L376.51,77.64 L377.12,76.89 L377.73,76.14 L378.34,75.41 L378.95,74.69 L379.56,73.99 L380.17,73.30 L380.78,72.63 L381.38,71.97 L381.99,71.32 L382.60,70.70 L383.21,70.08 L383.82,69.49 L384.43,68.90 L385.04,68.34 L385.65,67.79 L386.26,67.26 L386.87,66.75 L387.48,66.26 L388.09,65.78 L388.69,65.32 L389.30,64.88 L389.91,64.46 L390.52,64.05 L391.13,63.67 L391.74,63.31 L392.35,62.96 L392.96,62.63 L393.57,62.33 L394.18,62.04 L394.79,61.78 L395.40,61.53 L396.01,61.31 L396.61,61.10 L397.22,60.92 L397.83,60.75 L398.44,60.61 L399.05,60.49 L399.66,60.38 L400.27,60.30 L400.88,60.24 L401.49,60.20 L402.10,60.19 L402.71,60.19 L403.32,60.21 L403.92,60.26 L404.53,60.33 L405.14,60.41 L405.75,60.52 L406.36,60.65 L406.97,60.80 L407.58,60.97 L408.19,61.16 L408.80,61.37 L409.41,61.60 L410.02,61.86 L410.63,62.13 L411.24,62.42 L411.84,62.73 L412.45,63.06 L413.06,63.41 L413.67,63.78 L414.28,64.17 L414.89,64.58 L415.50,65.01 L416.11,65.46 L416.72,65.92 L417.33,66.40 L417.94,66.90 L418.55,67.42 L419.16,67.96 L419.76,68.51 L420.37,69.08 L420.98,69.66 L421.59,70.27 L422.20,70.88 L422.81,71.52 L423.42,72.17 L424.03,72.83 L424.64,73.51 L425.25,74.20 L425.86,74.91 L426.47,75.63 L427.07,76.37 L427.68,77.11 L428.29,77.87 L428.90,78.65 L429.51,79.43 L430.12,80.23 L430.73,81.03 L431.34,81.85 L431.95,82.68 L432.56,83.52 L433.17,84.37 L433.78,85.23 L433.78,130.81 L433.17,130.10 L432.56,129.39 L431.95,128.68 L431.34,127.97 L430.73,127.27 L430.12,126.56 L429.51,125.86 L428.90,125.17 L428.29,124.48 L427.68,123.79 L427.07,123.11 L426.47,122.43 L425.86,121.75 L425.25,121.08 L424.64,120.42 L424.03,119.76 L423.42,119.11 L422.81,118.47 L422.20,117.83 L421.59,117.20 L420.98,116.58 L420.37,115.97 L419.76,115.37 L419.16,114.77 L418.55,114.18 L417.94,113.61 L417.33,113.04 L416.72,112.48 L416.11,111.93 L415.50,111.40 L414.89,110.87 L414.28,110.36 L413.67,109.85 L413.06,109.36 L412.45,108.88 L411.84,108.42 L411.24,107.96 L410.63,107.52 L410.02,107.10 L409.41,106.68 L408.80,106.28 L408.19,105.90 L407.58,105.53 L406.97,105.17 L406.36,104.83 L405.75,104.50 L405.14,104.19 L404.53,103.89 L403.92,103.61 L403.32,103.34 L402.71,103.09 L402.10,102.86 L401.49,102.64 L400.88,102.44 L400.27,102.25 L399.66,102.08 L399.05,101.93 L398.44,101.80 L397.83,101.68 L397.22,101.57 L396.61,101.49 L396.01,101.42 L395.40,101.37 L394.79,101.34 L394.18,101.32 L393.57,101.32 L392.96,101.34 L392.35,101.37 L391.74,101.42 L391.13,101.49 L390.52,101.58 L389.91,101.68 L389.30,101.80 L388.69,101.93 L388.09,102.09 L387.48,102.26 L386.87,102.44 L386.26,102.64 L385.65,102.86 L385.04,103.10 L384.43,103.35 L383.82,103.61 L383.21,103.89 L382.60,104.19 L381.99,104.50 L381.38,104.83 L380.78,105.17 L380.17,105.53 L379.56,105.90 L378.95,106.29 L378.34,106.69 L377.73,107.10 L377.12,107.53 L376.51,107.97 L375.90,108.42 L375.29,108.89 L374.68,109.37 L374.07,109.86 L373.46,110.36 L372.86,110.88 L372.25,111.40 L371.64,111.94 L371.03,112.49 L370.42,113.05 L369.81,113.61 L369.20,114.19 L368.59,114.78 L367.98,115.37 L367.37,115.98 L366.76,116.59 L366.15,117.21 L365.55,117.84 L364.94,118.48 L364.33,119.12 L363.72,119.77 L363.11,120.43 L362.50,121.09 L361.89,121.76 L361.28,122.44 L360.67,123.11 L360.06,123.80 L359.45,124.50 L358.84,125.20 L358.23,125.91 L357.63,126.62 L357.02,127.34 L356.41,128.06 L355.80,128.78 L355.19,129.50 L354.58,130.22 L353.97,130.95 L353.36,131.68 L352.75,132.40 L352.14,133.13 L351.53,133.86 L350.92,134.60 L350.31,135.34 L349.71,136.07 L349.10,136.81 L348.49,137.54 L347.88,138.27 L347.27,139.00 L346.66,139.73 L346.05,140.45 L345.44,141.18 L344.83,141.90 L344.22,142.61 L343.61,143.33 L343.00,144.04 L342.40,144.74 L341.79,145.44 L341.18,146.14 L340.57,146.83 L339.96,147.52 L339.35,148.20 L338.74,148.88 L338.13,149.55 L337.52,150.21 L336.91,150.85 L336.30,151.49 L335.69,152.12 L335.08,152.74 L334.48,153.36 L333.87,153.97 L333.26,154.58 L332.65,155.18 L332.04,155.77 L331.43,156.36 L330.82,156.94 L330.21,157.51 L329.60,158.07 L328.99,158.63 L328.38,159.18 L327.77,159.73 L327.17,160.26 L326.56,160.79 L325.95,161.31 L325.34,161.83 L324.73,162.34 L324.12,162.83 L323.51,163.33 L322.90,163.81 L322.29,164.29 L321.68,164.75 L321.07,165.22 L320.46,165.67 L319.85,166.11 L319.25,166.53 L318.64,166.95 L318.03,167.36 L317.42,167.76 L316.81,168.15 L316.20,168.53 L315.59,168.91 L314.98,169.28 L314.37,169.64 L313.76,170.00 L313.15,170.35 L312.54,170.69 L311.93,171.02 L311.33,171.35 L310.72,171.67 L310.11,171.98 L309.50,172.29 L308.89,172.59 L308.28,172.88 L307.67,173.16 L307.06,173.44 L306.45,173.71 L305.84,173.98 L305.23,174.24 L304.62,174.49 L304.02,174.74 L303.41,174.98 L302.80,175.21 L302.19,175.44 L301.58,175.66 L300.97,175.88 L300.36,176.09 L299.75,176.29 L299.14,176.49 L298.53,176.68 L297.92,176.86 L297.31,177.04 L296.70,177.22 L296.10,177.39 L295.49,177.55 L294.88,177.71 L294.27,177.86 L293.66,178.01 L293.05,178.16 L292.44,178.30 L291.83,178.44 L291.22,178.57 L290.61,178.70 L290.00,178.82 L289.39,178.94 L288.79,179.06 L288.18,179.17 Z" fill="#c5d4b6" fill-opacity="1.000"/>
<line x1="356.40" y1="52.60" x2="356.40" y2="193.60" stroke="#999999" stroke-width="1.1" stroke-dasharray="4.3 3.8" stroke-dashoffset="0.00"/>
<defs><linearGradient id="rg3" gradientUnits="userSpaceOnUse" x1="302.60" y1="0" x2="419.30" y2="0"><stop offset="0.00000" stop-color="#3b5e08" stop-opacity="0.025"/><stop offset="0.04542" stop-color="#3b5e08" stop-opacity="0.025"/><stop offset="0.04542" stop-color="#3b5e08" stop-opacity="0.044"/><stop offset="0.08997" stop-color="#3b5e08" stop-opacity="0.044"/><stop offset="0.08997" stop-color="#3b5e08" stop-opacity="0.119"/><stop offset="0.13539" stop-color="#3b5e08" stop-opacity="0.119"/><stop offset="0.13539" stop-color="#3b5e08" stop-opacity="0.276"/><stop offset="0.17995" stop-color="#3b5e08" stop-opacity="0.276"/><stop offset="0.17995" stop-color="#3b5e08" stop-opacity="0.361"/><stop offset="0.22022" stop-color="#3b5e08" stop-opacity="0.361"/><stop offset="0.22022" stop-color="#3b5e08" stop-opacity="0.528"/><stop offset="0.26564" stop-color="#3b5e08" stop-opacity="0.528"/><stop offset="0.26564" stop-color="#3b5e08" stop-opacity="0.837"/><stop offset="0.31020" stop-color="#3b5e08" stop-opacity="0.837"/><stop offset="0.31020" stop-color="#3b5e08" stop-opacity="1.000"/><stop offset="0.35133" stop-color="#3b5e08" stop-opacity="1.000"/><stop offset="0.35133" stop-color="#3b5e08" stop-opacity="1.000"/><stop offset="0.39075" stop-color="#3b5e08" stop-opacity="1.000"/><stop offset="0.39075" stop-color="#3b5e08" stop-opacity="0.984"/><stop offset="0.43530" stop-color="#3b5e08" stop-opacity="0.984"/><stop offset="0.43530" stop-color="#3b5e08" stop-opacity="1.000"/><stop offset="0.48072" stop-color="#3b5e08" stop-opacity="1.000"/><stop offset="0.48072" stop-color="#3b5e08" stop-opacity="0.919"/><stop offset="0.52528" stop-color="#3b5e08" stop-opacity="0.919"/><stop offset="0.52528" stop-color="#3b5e08" stop-opacity="0.769"/><stop offset="0.56470" stop-color="#3b5e08" stop-opacity="0.769"/><stop offset="0.56470" stop-color="#3b5e08" stop-opacity="0.665"/><stop offset="0.61011" stop-color="#3b5e08" stop-opacity="0.665"/><stop offset="0.61011" stop-color="#3b5e08" stop-opacity="0.620"/><stop offset="0.65467" stop-color="#3b5e08" stop-opacity="0.620"/><stop offset="0.65467" stop-color="#3b5e08" stop-opacity="0.500"/><stop offset="0.69494" stop-color="#3b5e08" stop-opacity="0.500"/><stop offset="0.69494" stop-color="#3b5e08" stop-opacity="0.382"/><stop offset="0.74036" stop-color="#3b5e08" stop-opacity="0.382"/><stop offset="0.74036" stop-color="#3b5e08" stop-opacity="0.276"/><stop offset="0.77978" stop-color="#3b5e08" stop-opacity="0.276"/><stop offset="0.77978" stop-color="#3b5e08" stop-opacity="0.183"/><stop offset="0.82519" stop-color="#3b5e08" stop-opacity="0.183"/><stop offset="0.82519" stop-color="#3b5e08" stop-opacity="0.133"/><stop offset="0.86975" stop-color="#3b5e08" stop-opacity="0.133"/><stop offset="0.86975" stop-color="#3b5e08" stop-opacity="0.091"/><stop offset="0.91003" stop-color="#3b5e08" stop-opacity="0.091"/><stop offset="0.91003" stop-color="#3b5e08" stop-opacity="0.060"/><stop offset="0.95544" stop-color="#3b5e08" stop-opacity="0.060"/><stop offset="0.95544" stop-color="#3b5e08" stop-opacity="0.025"/><stop offset="1.00000" stop-color="#3b5e08" stop-opacity="0.025"/></linearGradient></defs>
<rect x="302.60" y="181.20" width="116.70" height="11.70" fill="url(#rg3)"/>
<path d="M288.18,178.05 L288.79,177.92 L289.39,177.77 L290.00,177.63 L290.61,177.47 L291.22,177.32 L291.83,177.16 L292.44,176.99 L293.05,176.82 L293.66,176.64 L294.27,176.46 L294.88,176.27 L295.49,176.07 L296.10,175.87 L296.70,175.67 L297.31,175.46 L297.92,175.24 L298.53,175.02 L299.14,174.79 L299.75,174.55 L300.36,174.31 L300.97,174.06 L301.58,173.80 L302.19,173.53 L302.80,173.26 L303.41,172.98 L304.02,172.69 L304.62,172.40 L305.23,172.10 L305.84,171.79 L306.45,171.47 L307.06,171.15 L307.67,170.82 L308.28,170.48 L308.89,170.14 L309.50,169.78 L310.11,169.42 L310.72,169.06 L311.33,168.68 L311.93,168.30 L312.54,167.91 L313.15,167.51 L313.76,167.10 L314.37,166.68 L314.98,166.26 L315.59,165.83 L316.20,165.38 L316.81,164.94 L317.42,164.48 L318.03,164.01 L318.64,163.54 L319.25,163.06 L319.85,162.57 L320.46,162.05 L321.07,161.53 L321.68,160.99 L322.29,160.45 L322.90,159.90 L323.51,159.34 L324.12,158.77 L324.73,158.19 L325.34,157.61 L325.95,157.01 L326.56,156.41 L327.17,155.80 L327.77,155.18 L328.38,154.55 L328.99,153.92 L329.60,153.28 L330.21,152.63 L330.82,151.97 L331.43,151.30 L332.04,150.63 L332.65,149.95 L333.26,149.26 L333.87,148.56 L334.48,147.86 L335.08,147.14 L335.69,146.43 L336.30,145.70 L336.91,144.97 L337.52,144.23 L338.13,143.48 L338.74,142.71 L339.35,141.93 L339.96,141.14 L340.57,140.35 L341.18,139.55 L341.79,138.75 L342.40,137.94 L343.00,137.13 L343.61,136.31 L344.22,135.49 L344.83,134.67 L345.44,133.84 L346.05,133.00 L346.66,132.17 L347.27,131.33 L347.88,130.48 L348.49,129.64 L349.10,128.79 L349.71,127.94 L350.31,127.08 L350.92,126.23 L351.53,125.37 L352.14,124.52 L352.75,123.67 L353.36,122.82 L353.97,121.98 L354.58,121.13 L355.19,120.28 L355.80,119.44 L356.41,118.59 L357.02,117.75 L357.63,116.91 L358.23,116.07 L358.84,115.23 L359.45,114.40 L360.06,113.57 L360.67,112.76 L361.28,111.95 L361.89,111.15 L362.50,110.35 L363.11,109.56 L363.72,108.77 L364.33,107.99 L364.94,107.21 L365.55,106.44 L366.15,105.68 L366.76,104.92 L367.37,104.17 L367.98,103.43 L368.59,102.70 L369.20,101.98 L369.81,101.26 L370.42,100.56 L371.03,99.86 L371.64,99.18 L372.25,98.50 L372.86,97.84 L373.46,97.18 L374.07,96.54 L374.68,95.91 L375.29,95.29 L375.90,94.69 L376.51,94.10 L377.12,93.52 L377.73,92.95 L378.34,92.40 L378.95,91.86 L379.56,91.33 L380.17,90.82 L380.78,90.33 L381.38,89.84 L381.99,89.38 L382.60,88.93 L383.21,88.49 L383.82,88.08 L384.43,87.67 L385.04,87.29 L385.65,86.92 L386.26,86.57 L386.87,86.23 L387.48,85.92 L388.09,85.62 L388.69,85.33 L389.30,85.07 L389.91,84.82 L390.52,84.59 L391.13,84.38 L391.74,84.19 L392.35,84.02 L392.96,83.86 L393.57,83.73 L394.18,83.61 L394.79,83.51 L395.40,83.43 L396.01,83.37 L396.61,83.33 L397.22,83.31 L397.83,83.30 L398.44,83.32 L399.05,83.35 L399.66,83.40 L400.27,83.47 L400.88,83.56 L401.49,83.67 L402.10,83.80 L402.71,83.95 L403.32,84.11 L403.92,84.29 L404.53,84.50 L405.14,84.72 L405.75,84.96 L406.36,85.21 L406.97,85.49 L407.58,85.78 L408.19,86.09 L408.80,86.41 L409.41,86.76 L410.02,87.12 L410.63,87.50 L411.24,87.89 L411.84,88.30 L412.45,88.73 L413.06,89.17 L413.67,89.63 L414.28,90.10 L414.89,90.59 L415.50,91.10 L416.11,91.62 L416.72,92.15 L417.33,92.69 L417.94,93.26 L418.55,93.83 L419.16,94.42 L419.76,95.02 L420.37,95.63 L420.98,96.25 L421.59,96.89 L422.20,97.54 L422.81,98.20 L423.42,98.87 L424.03,99.55 L424.64,100.24 L425.25,100.94 L425.86,101.65 L426.47,102.37 L427.07,103.10 L427.68,103.84 L428.29,104.58 L428.90,105.33 L429.51,106.09 L430.12,106.86 L430.73,107.63 L431.34,108.41 L431.95,109.20 L432.56,109.99 L433.17,110.79 L433.78,111.59" fill="none" stroke="#3a650b" stroke-width="2.10" stroke-linejoin="round" stroke-linecap="butt"/>
<rect x="281.50" y="52.60" width="159.90" height="141.00" fill="none" stroke="#5f5f5f" stroke-width="1.15"/>
<line x1="277.90" y1="182.60" x2="281.50" y2="182.60" stroke="#333333" stroke-width="1.1"/>
<text x="249.17" y="186.60" font-size="11.00" textLength="26.34" lengthAdjust="spacingAndGlyphs" fill="#1a1a1a" stroke="#1a1a1a" stroke-width="0.20">0.000</text>
<line x1="277.90" y1="141.75" x2="281.50" y2="141.75" stroke="#333333" stroke-width="1.1"/>
<text x="249.20" y="145.75" font-size="11.00" textLength="26.34" lengthAdjust="spacingAndGlyphs" fill="#1a1a1a" stroke="#1a1a1a" stroke-width="0.20">0.005</text>
<line x1="277.90" y1="100.90" x2="281.50" y2="100.90" stroke="#333333" stroke-width="1.1"/>
<text x="249.17" y="104.90" font-size="11.00" textLength="26.34" lengthAdjust="spacingAndGlyphs" fill="#1a1a1a" stroke="#1a1a1a" stroke-width="0.20">0.010</text>
<line x1="277.90" y1="60.05" x2="281.50" y2="60.05" stroke="#333333" stroke-width="1.1"/>
<text x="249.20" y="64.05" font-size="11.00" textLength="26.34" lengthAdjust="spacingAndGlyphs" fill="#1a1a1a" stroke="#1a1a1a" stroke-width="0.20">0.015</text>
<line x1="314.80" y1="193.60" x2="314.80" y2="197.00" stroke="#333333" stroke-width="1.1"/>
<text x="304.37" y="207.70" font-size="11.00" textLength="20.78" lengthAdjust="spacingAndGlyphs" fill="#1a1a1a" stroke="#1a1a1a" stroke-width="0.20">−0.5</text>
<line x1="356.40" y1="193.60" x2="356.40" y2="197.00" stroke="#333333" stroke-width="1.1"/>
<text x="349.08" y="207.70" font-size="11.00" textLength="14.63" lengthAdjust="spacingAndGlyphs" fill="#1a1a1a" stroke="#1a1a1a" stroke-width="0.20">0.0</text>
<line x1="398.00" y1="193.60" x2="398.00" y2="197.00" stroke="#333333" stroke-width="1.1"/>
<text x="390.70" y="207.70" font-size="11.00" textLength="14.63" lengthAdjust="spacingAndGlyphs" fill="#1a1a1a" stroke="#1a1a1a" stroke-width="0.20">0.5</text>
<line x1="439.60" y1="193.60" x2="439.60" y2="197.00" stroke="#333333" stroke-width="1.1"/>
<text x="432.09" y="207.70" font-size="11.00" textLength="14.63" lengthAdjust="spacingAndGlyphs" fill="#1a1a1a" stroke="#1a1a1a" stroke-width="0.20">1.0</text>
<text transform="translate(243.00,123.10) rotate(-90)" x="-63.62" y="0" font-size="11.00" textLength="127.06" lengthAdjust="spacingAndGlyphs" fill="#1a1a1a" stroke="#1a1a1a" stroke-width="0.20">Probability of naturalization</text>
<text x="292.53" y="220.20" font-size="11.00" textLength="136.54" lengthAdjust="spacingAndGlyphs" fill="#1a1a1a" stroke="#1a1a1a" stroke-width="0.20">Human modification distance</text>
<text x="281.41" y="35.60" font-size="9.75" textLength="26.15" lengthAdjust="spacingAndGlyphs" fill="#1a1a1a" stroke="#1a1a1a" stroke-width="0.20">Lower</text>
<text x="281.53" y="43.70" font-size="9.75" textLength="68.84" lengthAdjust="spacingAndGlyphs" fill="#1a1a1a" stroke="#1a1a1a" stroke-width="0.20">human-modified</text>
<text x="412.68" y="35.60" font-size="9.75" textLength="28.28" lengthAdjust="spacingAndGlyphs" fill="#1a1a1a" stroke="#1a1a1a" stroke-width="0.20">Higher</text>
<text x="372.38" y="43.70" font-size="9.75" textLength="68.84" lengthAdjust="spacingAndGlyphs" fill="#1a1a1a" stroke="#1a1a1a" stroke-width="0.20">human-modified</text>
<line x1="285.30" y1="47.60" x2="352.90" y2="47.60" stroke="#2a4fa3" stroke-width="1.8"/>
<path d="M280.30,47.60 L287.50,44.50 L286.00,47.60 L287.50,50.70 Z" fill="#2a4fa3"/>
<line x1="361.40" y1="47.60" x2="437.90" y2="47.60" stroke="#2a4fa3" stroke-width="1.8"/>
<path d="M442.90,47.60 L435.70,44.50 L437.20,47.60 L435.70,50.70 Z" fill="#2a4fa3"/>
<path d="M288.40,263.00 L288.76,263.00 L289.13,263.00 L289.49,263.00 L289.86,263.00 L290.22,263.00 L290.59,263.00 L290.95,263.00 L291.32,263.00 L291.68,263.00 L292.04,263.00 L292.41,263.00 L292.77,263.00 L293.14,263.00 L293.50,263.00 L293.87,263.00 L294.23,263.00 L294.59,263.00 L294.96,263.00 L295.32,263.00 L295.69,263.00 L296.05,263.00 L296.42,263.00 L296.78,263.00 L297.15,263.00 L297.51,263.00 L297.87,263.00 L298.24,263.00 L298.60,263.00 L298.97,263.00 L299.33,263.01 L299.70,263.01 L300.06,263.02 L300.43,263.02 L300.79,263.03 L301.15,263.04 L301.52,263.05 L301.88,263.06 L302.25,263.07 L302.61,263.08 L302.98,263.09 L303.34,263.11 L303.71,263.12 L304.07,263.14 L304.43,263.16 L304.80,263.20 L305.16,263.27 L305.53,263.36 L305.89,263.48 L306.26,263.62 L306.62,263.77 L306.98,263.94 L307.35,264.12 L307.71,264.31 L308.08,264.52 L308.44,264.72 L308.81,264.97 L309.17,265.26 L309.54,265.60 L309.90,265.98 L310.26,266.41 L310.63,266.86 L310.99,267.36 L311.36,267.88 L311.72,268.43 L312.09,269.00 L312.45,269.58 L312.82,270.23 L313.18,270.95 L313.54,271.75 L313.91,272.60 L314.27,273.52 L314.64,274.48 L315.00,275.49 L315.37,276.55 L315.73,277.63 L316.10,278.74 L316.46,279.87 L316.82,281.06 L317.19,282.34 L317.55,283.70 L317.92,285.14 L318.28,286.62 L318.65,288.15 L319.01,289.70 L319.37,291.26 L319.74,292.82 L320.10,294.37 L320.47,295.94 L320.83,297.54 L321.20,299.17 L321.56,300.82 L321.93,302.49 L322.29,304.17 L322.65,305.86 L323.02,307.56 L323.38,309.26 L323.75,310.98 L324.11,312.72 L324.48,314.47 L324.84,316.24 L325.21,318.04 L325.57,319.85 L325.93,321.70 L326.30,323.63 L326.66,325.63 L327.03,327.66 L327.39,329.70 L327.76,331.73 L328.12,333.72 L328.49,335.64 L328.85,337.47 L329.21,339.18 L329.58,340.76 L329.94,342.31 L330.31,343.82 L330.67,345.30 L331.04,346.73 L331.40,348.12 L331.76,349.46 L332.13,350.74 L332.49,351.96 L332.86,353.12 L333.22,354.20 L333.59,355.20 L333.95,356.14 L334.32,357.03 L334.68,357.89 L335.04,358.71 L335.41,359.50 L335.77,360.25 L336.14,360.98 L336.50,361.68 L336.87,362.35 L337.23,363.01 L337.60,363.64 L337.96,364.25 L338.32,364.85 L338.69,365.43 L339.05,365.99 L339.42,366.56 L339.78,367.12 L340.15,367.68 L340.51,368.23 L340.88,368.76 L341.24,369.29 L341.60,369.81 L341.97,370.31 L342.33,370.79 L342.70,371.26 L343.06,371.71 L343.43,372.14 L343.79,372.54 L344.15,372.93 L344.52,373.28 L344.88,373.61 L345.25,373.91 L345.61,374.18 L345.98,374.44 L346.34,374.69 L346.71,374.93 L347.07,375.16 L347.43,375.38 L347.80,375.60 L348.16,375.81 L348.53,376.01 L348.89,376.21 L349.26,376.40 L349.62,376.58 L349.99,376.75 L350.35,376.92 L350.71,377.08 L351.08,377.24 L351.44,377.39 L351.81,377.54 L352.17,377.67 L352.54,377.81 L352.90,377.94 L353.27,378.06 L353.63,378.18 L353.99,378.30 L354.36,378.41 L354.72,378.52 L355.09,378.63 L355.45,378.74 L355.82,378.85 L356.18,378.95 L356.54,379.05 L356.91,379.15 L357.27,379.25 L357.64,379.35 L358.00,379.44 L358.37,379.52 L358.73,379.61 L359.10,379.69 L359.46,379.76 L359.82,379.84 L360.19,379.90 L360.55,379.97 L360.92,380.02 L361.28,380.07 L361.65,380.12 L362.01,380.16 L362.38,380.20 L362.74,380.23 L363.10,380.26 L363.47,380.29 L363.83,380.32 L364.20,380.35 L364.56,380.37 L364.93,380.40 L365.29,380.42 L365.66,380.45 L366.02,380.47 L366.38,380.49 L366.75,380.51 L367.11,380.53 L367.48,380.55 L367.84,380.57 L368.21,380.59 L368.57,380.60 L368.93,380.62 L369.30,380.63 L369.66,380.65 L370.03,380.66 L370.39,380.67 L370.76,380.68 L371.12,380.69 L371.49,380.69 L371.85,380.70 L372.21,380.71 L372.58,380.71 L372.94,380.72 L373.31,380.72 L373.67,380.73 L374.04,380.74 L374.40,380.74 L374.77,380.75 L375.13,380.75 L375.49,380.76 L375.86,380.76 L376.22,380.77 L376.59,380.77 L376.95,380.78 L377.32,380.78 L377.68,380.79 L378.05,380.79 L378.41,380.79 L378.77,380.80 L379.14,380.80 L379.50,380.81 L379.87,380.81 L380.23,380.82 L380.60,380.82 L380.96,380.82 L381.32,380.83 L381.69,380.83 L382.05,380.84 L382.42,380.84 L382.78,380.84 L383.15,380.85 L383.51,380.85 L383.88,380.85 L384.24,380.86 L384.60,380.86 L384.97,380.86 L385.33,380.87 L385.70,380.87 L386.06,380.87 L386.43,380.87 L386.79,380.88 L387.16,380.88 L387.52,380.88 L387.88,380.89 L388.25,380.89 L388.61,380.89 L388.98,380.89 L389.34,380.90 L389.71,380.90 L390.07,380.90 L390.44,380.90 L390.80,380.90 L391.16,380.91 L391.53,380.91 L391.89,380.91 L392.26,380.91 L392.62,380.92 L392.99,380.92 L393.35,380.92 L393.71,380.92 L394.08,380.92 L394.44,380.92 L394.81,380.93 L395.17,380.93 L395.54,380.93 L395.90,380.93 L396.27,380.93 L396.63,380.93 L396.99,380.93 L397.36,380.94 L397.72,380.94 L398.09,380.94 L398.45,380.94 L398.82,380.94 L399.18,380.94 L399.55,380.94 L399.91,380.94 L400.27,380.95 L400.64,380.95 L401.00,380.95 L401.37,380.95 L401.73,380.95 L402.10,380.95 L402.46,380.95 L402.83,380.95 L403.19,380.95 L403.55,380.95 L403.92,380.96 L404.28,380.96 L404.65,380.96 L405.01,380.96 L405.38,380.96 L405.74,380.96 L406.10,380.96 L406.47,380.96 L406.83,380.96 L407.20,380.96 L407.56,380.96 L407.93,380.96 L408.29,380.97 L408.66,380.97 L409.02,380.97 L409.38,380.97 L409.75,380.97 L410.11,380.97 L410.48,380.97 L410.84,380.97 L411.21,380.97 L411.57,380.97 L411.94,380.97 L412.30,380.97 L412.66,380.97 L413.03,380.98 L413.39,380.98 L413.76,380.98 L414.12,380.98 L414.49,380.98 L414.85,380.98 L415.22,380.98 L415.58,380.98 L415.94,380.98 L416.31,380.98 L416.67,380.98 L417.04,380.98 L417.40,380.98 L417.77,380.98 L418.13,380.98 L418.49,380.99 L418.86,380.99 L419.22,380.99 L419.59,380.99 L419.95,380.99 L420.32,380.99 L420.68,380.99 L421.05,380.99 L421.41,380.99 L421.77,380.99 L422.14,380.99 L422.50,380.99 L422.87,380.99 L423.23,380.99 L423.60,380.99 L423.96,380.99 L424.33,380.99 L424.69,380.99 L425.05,380.99 L425.42,380.99 L425.78,380.99 L426.15,381.00 L426.51,381.00 L426.88,381.00 L427.24,381.00 L427.61,381.00 L427.97,381.00 L428.33,381.00 L428.70,381.00 L429.06,381.00 L429.43,381.00 L429.79,381.00 L430.16,381.00 L430.52,381.00 L430.88,381.00 L431.25,381.00 L431.61,381.00 L431.98,381.00 L432.34,381.00 L432.71,381.00 L433.07,381.00 L433.44,381.00 L433.80,381.00 L433.80,381.00 L433.44,381.00 L433.07,381.00 L432.71,381.00 L432.34,381.00 L431.98,381.00 L431.61,381.00 L431.25,381.00 L430.88,381.00 L430.52,381.00 L430.16,381.00 L429.79,381.00 L429.43,381.00 L429.06,381.00 L428.70,381.00 L428.33,381.00 L427.97,381.00 L427.61,381.00 L427.24,381.00 L426.88,381.00 L426.51,381.00 L426.15,381.00 L425.78,381.00 L425.42,381.00 L425.05,381.00 L424.69,381.00 L424.33,381.00 L423.96,381.00 L423.60,381.00 L423.23,381.00 L422.87,381.00 L422.50,381.00 L422.14,380.99 L421.77,380.99 L421.41,380.99 L421.05,380.99 L420.68,380.99 L420.32,380.99 L419.95,380.99 L419.59,380.99 L419.22,380.99 L418.86,380.99 L418.49,380.99 L418.13,380.99 L417.77,380.99 L417.40,380.99 L417.04,380.99 L416.67,380.99 L416.31,380.99 L415.94,380.99 L415.58,380.99 L415.22,380.99 L414.85,380.99 L414.49,380.98 L414.12,380.98 L413.76,380.98 L413.39,380.98 L413.03,380.98 L412.66,380.98 L412.30,380.98 L411.94,380.98 L411.57,380.98 L411.21,380.98 L410.84,380.98 L410.48,380.98 L410.11,380.98 L409.75,380.98 L409.38,380.98 L409.02,380.97 L408.66,380.97 L408.29,380.97 L407.93,380.97 L407.56,380.97 L407.20,380.97 L406.83,380.97 L406.47,380.97 L406.10,380.97 L405.74,380.97 L405.38,380.97 L405.01,380.97 L404.65,380.97 L404.28,380.96 L403.92,380.96 L403.55,380.96 L403.19,380.96 L402.83,380.96 L402.46,380.96 L402.10,380.96 L401.73,380.96 L401.37,380.96 L401.00,380.96 L400.64,380.96 L400.27,380.96 L399.91,380.95 L399.55,380.95 L399.18,380.95 L398.82,380.95 L398.45,380.95 L398.09,380.95 L397.72,380.95 L397.36,380.95 L396.99,380.95 L396.63,380.95 L396.27,380.94 L395.90,380.94 L395.54,380.94 L395.17,380.94 L394.81,380.94 L394.44,380.94 L394.08,380.94 L393.71,380.94 L393.35,380.93 L392.99,380.93 L392.62,380.93 L392.26,380.93 L391.89,380.93 L391.53,380.93 L391.16,380.93 L390.80,380.92 L390.44,380.92 L390.07,380.92 L389.71,380.92 L389.34,380.92 L388.98,380.91 L388.61,380.91 L388.25,380.91 L387.88,380.91 L387.52,380.91 L387.16,380.90 L386.79,380.90 L386.43,380.90 L386.06,380.90 L385.70,380.90 L385.33,380.89 L384.97,380.89 L384.60,380.89 L384.24,380.89 L383.88,380.88 L383.51,380.88 L383.15,380.88 L382.78,380.87 L382.42,380.87 L382.05,380.87 L381.69,380.87 L381.32,380.86 L380.96,380.86 L380.60,380.86 L380.23,380.85 L379.87,380.85 L379.50,380.85 L379.14,380.84 L378.77,380.84 L378.41,380.83 L378.05,380.83 L377.68,380.83 L377.32,380.82 L376.95,380.82 L376.59,380.82 L376.22,380.81 L375.86,380.81 L375.49,380.80 L375.13,380.80 L374.77,380.79 L374.40,380.79 L374.04,380.78 L373.67,380.78 L373.31,380.78 L372.94,380.77 L372.58,380.77 L372.21,380.76 L371.85,380.76 L371.49,380.75 L371.12,380.75 L370.76,380.74 L370.39,380.73 L370.03,380.73 L369.66,380.72 L369.30,380.72 L368.93,380.71 L368.57,380.71 L368.21,380.70 L367.84,380.69 L367.48,380.69 L367.11,380.68 L366.75,380.67 L366.38,380.66 L366.02,380.64 L365.66,380.63 L365.29,380.62 L364.93,380.60 L364.56,380.59 L364.20,380.57 L363.83,380.55 L363.47,380.53 L363.10,380.51 L362.74,380.49 L362.38,380.47 L362.01,380.44 L361.65,380.42 L361.28,380.40 L360.92,380.37 L360.55,380.34 L360.19,380.31 L359.82,380.29 L359.46,380.26 L359.10,380.23 L358.73,380.19 L358.37,380.16 L358.00,380.12 L357.64,380.07 L357.27,380.02 L356.91,379.96 L356.54,379.89 L356.18,379.83 L355.82,379.75 L355.45,379.68 L355.09,379.60 L354.72,379.51 L354.36,379.43 L353.99,379.33 L353.63,379.24 L353.27,379.14 L352.90,379.04 L352.54,378.94 L352.17,378.83 L351.81,378.73 L351.44,378.62 L351.08,378.51 L350.71,378.40 L350.35,378.28 L349.99,378.17 L349.62,378.05 L349.26,377.92 L348.89,377.79 L348.53,377.66 L348.16,377.52 L347.80,377.37 L347.43,377.22 L347.07,377.06 L346.71,376.90 L346.34,376.73 L345.98,376.56 L345.61,376.37 L345.25,376.18 L344.88,375.99 L344.52,375.78 L344.15,375.57 L343.79,375.36 L343.43,375.13 L343.06,374.90 L342.70,374.66 L342.33,374.41 L341.97,374.15 L341.60,373.88 L341.24,373.57 L340.88,373.24 L340.51,372.88 L340.15,372.50 L339.78,372.09 L339.42,371.66 L339.05,371.21 L338.69,370.74 L338.32,370.25 L337.96,369.75 L337.60,369.23 L337.23,368.70 L336.87,368.16 L336.50,367.61 L336.14,367.05 L335.77,366.49 L335.41,365.93 L335.04,365.36 L334.68,364.77 L334.32,364.18 L333.95,363.56 L333.59,362.93 L333.22,362.27 L332.86,361.60 L332.49,360.89 L332.13,360.16 L331.76,359.40 L331.40,358.61 L331.04,357.79 L330.67,356.93 L330.31,356.03 L329.94,355.09 L329.58,354.07 L329.21,352.98 L328.85,351.82 L328.49,350.59 L328.12,349.30 L327.76,347.96 L327.39,346.56 L327.03,345.12 L326.66,343.64 L326.30,342.12 L325.93,340.58 L325.57,338.98 L325.21,337.25 L324.84,335.41 L324.48,333.48 L324.11,331.49 L323.75,329.46 L323.38,327.41 L323.02,325.38 L322.65,323.39 L322.29,321.47 L321.93,319.63 L321.56,317.82 L321.20,316.03 L320.83,314.26 L320.47,312.51 L320.10,310.77 L319.74,309.06 L319.37,307.35 L319.01,305.65 L318.65,303.96 L318.28,302.28 L317.92,300.62 L317.55,298.97 L317.19,297.35 L316.82,295.75 L316.46,294.18 L316.10,292.63 L315.73,291.07 L315.37,289.51 L315.00,287.96 L314.64,286.44 L314.27,284.96 L313.91,283.53 L313.54,282.18 L313.18,280.91 L312.82,279.74 L312.45,278.61 L312.09,277.50 L311.72,276.42 L311.36,275.37 L310.99,274.36 L310.63,273.40 L310.26,272.50 L309.90,271.65 L309.54,270.86 L309.17,270.15 L308.81,269.51 L308.44,268.93 L308.08,268.36 L307.71,267.81 L307.35,267.30 L306.98,266.81 L306.62,266.35 L306.26,265.93 L305.89,265.56 L305.53,265.22 L305.16,264.94 L304.80,264.70 L304.43,264.49 L304.07,264.29 L303.71,264.10 L303.34,263.92 L302.98,263.75 L302.61,263.60 L302.25,263.46 L301.88,263.35 L301.52,263.26 L301.15,263.19 L300.79,263.16 L300.43,263.14 L300.06,263.12 L299.70,263.11 L299.33,263.09 L298.97,263.08 L298.60,263.07 L298.24,263.06 L297.87,263.05 L297.51,263.04 L297.15,263.03 L296.78,263.02 L296.42,263.02 L296.05,263.01 L295.69,263.01 L295.32,263.00 L294.96,263.00 L294.59,263.00 L294.23,263.00 L293.87,263.00 L293.50,263.00 L293.14,263.00 L292.77,263.00 L292.41,263.00 L292.04,263.00 L291.68,263.00 L291.32,263.00 L290.95,263.00 L290.59,263.00 L290.22,263.00 L289.86,263.00 L289.49,263.00 L289.13,263.00 L288.76,263.00 L288.40,263.00 Z" fill="#e6c9ae" fill-opacity="1.000"/>
<line x1="365.90" y1="256.50" x2="365.90" y2="398.00" stroke="#999999" stroke-width="1.1" stroke-dasharray="4.3 3.8" stroke-dashoffset="0.00"/>
<defs><linearGradient id="rg4" gradientUnits="userSpaceOnUse" x1="302.60" y1="0" x2="419.30" y2="0"><stop offset="0.00000" stop-color="#8f5118" stop-opacity="0.025"/><stop offset="0.04542" stop-color="#8f5118" stop-opacity="0.025"/><stop offset="0.04542" stop-color="#8f5118" stop-opacity="0.035"/><stop offset="0.08997" stop-color="#8f5118" stop-opacity="0.035"/><stop offset="0.08997" stop-color="#8f5118" stop-opacity="0.044"/><stop offset="0.13539" stop-color="#8f5118" stop-opacity="0.044"/><stop offset="0.13539" stop-color="#8f5118" stop-opacity="0.076"/><stop offset="0.17995" stop-color="#8f5118" stop-opacity="0.076"/><stop offset="0.17995" stop-color="#8f5118" stop-opacity="0.105"/><stop offset="0.22022" stop-color="#8f5118" stop-opacity="0.105"/><stop offset="0.22022" stop-color="#8f5118" stop-opacity="0.183"/><stop offset="0.26564" stop-color="#8f5118" stop-opacity="0.183"/><stop offset="0.26564" stop-color="#8f5118" stop-opacity="0.330"/><stop offset="0.31020" stop-color="#8f5118" stop-opacity="0.330"/><stop offset="0.31020" stop-color="#8f5118" stop-opacity="0.528"/><stop offset="0.35047" stop-color="#8f5118" stop-opacity="0.528"/><stop offset="0.35047" stop-color="#8f5118" stop-opacity="0.837"/><stop offset="0.39503" stop-color="#8f5118" stop-opacity="0.837"/><stop offset="0.39503" stop-color="#8f5118" stop-opacity="1.000"/><stop offset="0.43530" stop-color="#8f5118" stop-opacity="1.000"/><stop offset="0.43530" stop-color="#8f5118" stop-opacity="1.000"/><stop offset="0.48072" stop-color="#8f5118" stop-opacity="1.000"/><stop offset="0.48072" stop-color="#8f5118" stop-opacity="1.000"/><stop offset="0.52528" stop-color="#8f5118" stop-opacity="1.000"/><stop offset="0.52528" stop-color="#8f5118" stop-opacity="0.976"/><stop offset="0.56470" stop-color="#8f5118" stop-opacity="0.976"/><stop offset="0.56470" stop-color="#8f5118" stop-opacity="1.000"/><stop offset="0.61011" stop-color="#8f5118" stop-opacity="1.000"/><stop offset="0.61011" stop-color="#8f5118" stop-opacity="0.878"/><stop offset="0.65467" stop-color="#8f5118" stop-opacity="0.878"/><stop offset="0.65467" stop-color="#8f5118" stop-opacity="0.574"/><stop offset="0.69494" stop-color="#8f5118" stop-opacity="0.574"/><stop offset="0.69494" stop-color="#8f5118" stop-opacity="0.382"/><stop offset="0.74036" stop-color="#8f5118" stop-opacity="0.382"/><stop offset="0.74036" stop-color="#8f5118" stop-opacity="0.276"/><stop offset="0.77978" stop-color="#8f5118" stop-opacity="0.276"/><stop offset="0.77978" stop-color="#8f5118" stop-opacity="0.183"/><stop offset="0.82519" stop-color="#8f5118" stop-opacity="0.183"/><stop offset="0.82519" stop-color="#8f5118" stop-opacity="0.076"/><stop offset="0.86975" stop-color="#8f5118" stop-opacity="0.076"/><stop offset="0.86975" stop-color="#8f5118" stop-opacity="0.044"/><stop offset="0.91003" stop-color="#8f5118" stop-opacity="0.044"/><stop offset="0.91003" stop-color="#8f5118" stop-opacity="0.021"/><stop offset="0.95544" stop-color="#8f5118" stop-opacity="0.021"/><stop offset="0.95544" stop-color="#8f5118" stop-opacity="0.012"/><stop offset="1.00000" stop-color="#8f5118" stop-opacity="0.012"/></linearGradient></defs>
<rect x="302.60" y="385.50" width="116.70" height="11.80" fill="url(#rg4)"/>
<path d="M288.40,263.00 L288.76,263.00 L289.13,263.00 L289.49,263.00 L289.86,263.00 L290.22,263.00 L290.59,263.00 L290.95,263.00 L291.32,263.00 L291.68,263.00 L292.04,263.00 L292.41,263.00 L292.77,263.00 L293.14,263.00 L293.50,263.00 L293.87,263.00 L294.23,263.00 L294.59,263.00 L294.96,263.00 L295.32,263.00 L295.69,263.00 L296.05,263.00 L296.42,263.00 L296.78,263.00 L297.15,263.00 L297.51,263.01 L297.87,263.01 L298.24,263.02 L298.60,263.02 L298.97,263.03 L299.33,263.04 L299.70,263.05 L300.06,263.06 L300.43,263.07 L300.79,263.08 L301.15,263.09 L301.52,263.11 L301.88,263.12 L302.25,263.14 L302.61,263.16 L302.98,263.20 L303.34,263.26 L303.71,263.36 L304.07,263.47 L304.43,263.61 L304.80,263.76 L305.16,263.93 L305.53,264.11 L305.89,264.30 L306.26,264.50 L306.62,264.71 L306.98,264.95 L307.35,265.24 L307.71,265.58 L308.08,265.96 L308.44,266.38 L308.81,266.84 L309.17,267.33 L309.54,267.85 L309.90,268.39 L310.26,268.96 L310.63,269.55 L310.99,270.19 L311.36,270.91 L311.72,271.70 L312.09,272.55 L312.45,273.46 L312.82,274.42 L313.18,275.43 L313.54,276.48 L313.91,277.56 L314.27,278.67 L314.64,279.80 L315.00,280.98 L315.37,282.26 L315.73,283.62 L316.10,285.05 L316.46,286.53 L316.82,288.06 L317.19,289.61 L317.55,291.17 L317.92,292.73 L318.28,294.27 L318.65,295.84 L319.01,297.45 L319.37,299.07 L319.74,300.72 L320.10,302.39 L320.47,304.07 L320.83,305.76 L321.20,307.45 L321.56,309.16 L321.93,310.88 L322.29,312.61 L322.65,314.37 L323.02,316.14 L323.38,317.93 L323.75,319.74 L324.11,321.58 L324.48,323.51 L324.84,325.50 L325.21,327.54 L325.57,329.58 L325.93,331.61 L326.30,333.60 L326.66,335.53 L327.03,337.36 L327.39,339.08 L327.76,340.67 L328.12,342.21 L328.49,343.73 L328.85,345.21 L329.21,346.65 L329.58,348.04 L329.94,349.38 L330.31,350.67 L330.67,351.89 L331.04,353.05 L331.40,354.14 L331.76,355.15 L332.13,356.08 L332.49,356.98 L332.86,357.84 L333.22,358.66 L333.59,359.45 L333.95,360.21 L334.32,360.94 L334.68,361.64 L335.04,362.31 L335.41,362.97 L335.77,363.60 L336.14,364.21 L336.50,364.81 L336.87,365.39 L337.23,365.96 L337.60,366.53 L337.96,367.09 L338.32,367.64 L338.69,368.19 L339.05,368.73 L339.42,369.26 L339.78,369.78 L340.15,370.28 L340.51,370.76 L340.88,371.23 L341.24,371.68 L341.60,372.11 L341.97,372.52 L342.33,372.90 L342.70,373.26 L343.06,373.59 L343.43,373.89 L343.79,374.17 L344.15,374.42 L344.52,374.67 L344.88,374.91 L345.25,375.15 L345.61,375.37 L345.98,375.59 L346.34,375.80 L346.71,376.00 L347.07,376.20 L347.43,376.38 L347.80,376.57 L348.16,376.74 L348.53,376.91 L348.89,377.07 L349.26,377.23 L349.62,377.38 L349.99,377.53 L350.35,377.67 L350.71,377.80 L351.08,377.93 L351.44,378.06 L351.81,378.18 L352.17,378.29 L352.54,378.40 L352.90,378.52 L353.27,378.63 L353.63,378.73 L353.99,378.84 L354.36,378.95 L354.72,379.05 L355.09,379.15 L355.45,379.25 L355.82,379.34 L356.18,379.43 L356.54,379.52 L356.91,379.60 L357.27,379.68 L357.64,379.76 L358.00,379.83 L358.37,379.90 L358.73,379.96 L359.10,380.02 L359.46,380.07 L359.82,380.12 L360.19,380.16 L360.55,380.20 L360.92,380.23 L361.28,380.26 L361.65,380.29 L362.01,380.32 L362.38,380.34 L362.74,380.37 L363.10,380.40 L363.47,380.42 L363.83,380.45 L364.20,380.47 L364.56,380.49 L364.93,380.51 L365.29,380.53 L365.66,380.55 L366.02,380.57 L366.38,380.59 L366.75,380.60 L367.11,380.62 L367.48,380.63 L367.84,380.65 L368.21,380.66 L368.57,380.67 L368.93,380.68 L369.30,380.69 L369.66,380.69 L370.03,380.70 L370.39,380.71 L370.76,380.71 L371.12,380.72 L371.49,380.72 L371.85,380.73 L372.21,380.73 L372.58,380.74 L372.94,380.75 L373.31,380.75 L373.67,380.76 L374.04,380.76 L374.40,380.77 L374.77,380.77 L375.13,380.78 L375.49,380.78 L375.86,380.79 L376.22,380.79 L376.59,380.79 L376.95,380.80 L377.32,380.80 L377.68,380.81 L378.05,380.81 L378.41,380.82 L378.77,380.82 L379.14,380.82 L379.50,380.83 L379.87,380.83 L380.23,380.83 L380.60,380.84 L380.96,380.84 L381.32,380.85 L381.69,380.85 L382.05,380.85 L382.42,380.86 L382.78,380.86 L383.15,380.86 L383.51,380.87 L383.88,380.87 L384.24,380.87 L384.60,380.87 L384.97,380.88 L385.33,380.88 L385.70,380.88 L386.06,380.89 L386.43,380.89 L386.79,380.89 L387.16,380.89 L387.52,380.90 L387.88,380.90 L388.25,380.90 L388.61,380.90 L388.98,380.90 L389.34,380.91 L389.71,380.91 L390.07,380.91 L390.44,380.91 L390.80,380.91 L391.16,380.92 L391.53,380.92 L391.89,380.92 L392.26,380.92 L392.62,380.92 L392.99,380.93 L393.35,380.93 L393.71,380.93 L394.08,380.93 L394.44,380.93 L394.81,380.93 L395.17,380.93 L395.54,380.94 L395.90,380.94 L396.27,380.94 L396.63,380.94 L396.99,380.94 L397.36,380.94 L397.72,380.94 L398.09,380.94 L398.45,380.95 L398.82,380.95 L399.18,380.95 L399.55,380.95 L399.91,380.95 L400.27,380.95 L400.64,380.95 L401.00,380.95 L401.37,380.95 L401.73,380.95 L402.10,380.96 L402.46,380.96 L402.83,380.96 L403.19,380.96 L403.55,380.96 L403.92,380.96 L404.28,380.96 L404.65,380.96 L405.01,380.96 L405.38,380.96 L405.74,380.96 L406.10,380.96 L406.47,380.97 L406.83,380.97 L407.20,380.97 L407.56,380.97 L407.93,380.97 L408.29,380.97 L408.66,380.97 L409.02,380.97 L409.38,380.97 L409.75,380.97 L410.11,380.97 L410.48,380.97 L410.84,380.97 L411.21,380.98 L411.57,380.98 L411.94,380.98 L412.30,380.98 L412.66,380.98 L413.03,380.98 L413.39,380.98 L413.76,380.98 L414.12,380.98 L414.49,380.98 L414.85,380.98 L415.22,380.98 L415.58,380.98 L415.94,380.98 L416.31,380.98 L416.67,380.99 L417.04,380.99 L417.40,380.99 L417.77,380.99 L418.13,380.99 L418.49,380.99 L418.86,380.99 L419.22,380.99 L419.59,380.99 L419.95,380.99 L420.32,380.99 L420.68,380.99 L421.05,380.99 L421.41,380.99 L421.77,380.99 L422.14,380.99 L422.50,380.99 L422.87,380.99 L423.23,380.99 L423.60,380.99 L423.96,380.99 L424.33,381.00 L424.69,381.00 L425.05,381.00 L425.42,381.00 L425.78,381.00 L426.15,381.00 L426.51,381.00 L426.88,381.00 L427.24,381.00 L427.61,381.00 L427.97,381.00 L428.33,381.00 L428.70,381.00 L429.06,381.00 L429.43,381.00 L429.79,381.00 L430.16,381.00 L430.52,381.00 L430.88,381.00 L431.25,381.00 L431.61,381.00 L431.98,381.00 L432.34,381.00 L432.71,381.00 L433.07,381.00 L433.44,381.00 L433.80,381.00" fill="none" stroke="#94520f" stroke-width="2.20" stroke-linejoin="round" stroke-linecap="butt"/>
<rect x="281.50" y="256.50" width="159.90" height="141.50" fill="none" stroke="#5f5f5f" stroke-width="1.15"/>
<line x1="277.90" y1="381.00" x2="281.50" y2="381.00" stroke="#333333" stroke-width="1.1"/>
<text x="249.17" y="385.00" font-size="11.00" textLength="26.34" lengthAdjust="spacingAndGlyphs" fill="#1a1a1a" stroke="#1a1a1a" stroke-width="0.20">0.000</text>
<line x1="277.90" y1="351.55" x2="281.50" y2="351.55" stroke="#333333" stroke-width="1.1"/>
<text x="249.17" y="355.55" font-size="11.00" textLength="26.34" lengthAdjust="spacingAndGlyphs" fill="#1a1a1a" stroke="#1a1a1a" stroke-width="0.20">0.250</text>
<line x1="277.90" y1="322.10" x2="281.50" y2="322.10" stroke="#333333" stroke-width="1.1"/>
<text x="249.17" y="326.10" font-size="11.00" textLength="26.34" lengthAdjust="spacingAndGlyphs" fill="#1a1a1a" stroke="#1a1a1a" stroke-width="0.20">0.500</text>
<line x1="277.90" y1="292.65" x2="281.50" y2="292.65" stroke="#333333" stroke-width="1.1"/>
<text x="249.17" y="296.65" font-size="11.00" textLength="26.34" lengthAdjust="spacingAndGlyphs" fill="#1a1a1a" stroke="#1a1a1a" stroke-width="0.20">0.750</text>
<line x1="277.90" y1="263.20" x2="281.50" y2="263.20" stroke="#333333" stroke-width="1.1"/>
<text x="249.17" y="267.20" font-size="11.00" textLength="26.34" lengthAdjust="spacingAndGlyphs" fill="#1a1a1a" stroke="#1a1a1a" stroke-width="0.20">1.000</text>
<line x1="304.60" y1="398.00" x2="304.60" y2="401.40" stroke="#333333" stroke-width="1.1"/>
<text x="298.60" y="411.50" font-size="11.00" textLength="12.00" lengthAdjust="spacingAndGlyphs" fill="#1a1a1a" stroke="#1a1a1a" stroke-width="0.20">−2</text>
<line x1="335.25" y1="398.00" x2="335.25" y2="401.40" stroke="#333333" stroke-width="1.1"/>
<text x="329.25" y="411.50" font-size="11.00" textLength="12.00" lengthAdjust="spacingAndGlyphs" fill="#1a1a1a" stroke="#1a1a1a" stroke-width="0.20">−1</text>
<line x1="365.90" y1="398.00" x2="365.90" y2="401.40" stroke="#333333" stroke-width="1.1"/>
<text x="362.97" y="411.50" font-size="11.00" textLength="5.85" lengthAdjust="spacingAndGlyphs" fill="#1a1a1a" stroke="#1a1a1a" stroke-width="0.20">0</text>
<line x1="396.55" y1="398.00" x2="396.55" y2="401.40" stroke="#333333" stroke-width="1.1"/>
<text x="393.48" y="411.50" font-size="11.00" textLength="5.85" lengthAdjust="spacingAndGlyphs" fill="#1a1a1a" stroke="#1a1a1a" stroke-width="0.20">1</text>
<line x1="427.20" y1="398.00" x2="427.20" y2="401.40" stroke="#333333" stroke-width="1.1"/>
<text x="424.27" y="411.50" font-size="11.00" textLength="5.85" lengthAdjust="spacingAndGlyphs" fill="#1a1a1a" stroke="#1a1a1a" stroke-width="0.20">2</text>
<text transform="translate(243.00,327.20) rotate(-90)" x="-63.62" y="0" font-size="11.00" textLength="127.06" lengthAdjust="spacingAndGlyphs" fill="#1a1a1a" stroke="#1a1a1a" stroke-width="0.20">Probability of naturalization</text>
<text x="304.82" y="424.30" font-size="11.00" textLength="116.86" lengthAdjust="spacingAndGlyphs" fill="#1a1a1a" stroke="#1a1a1a" stroke-width="0.20">Native flora phylogenetic</text>
<text x="323.85" y="436.70" font-size="11.00" textLength="81.92" lengthAdjust="spacingAndGlyphs" fill="#1a1a1a" stroke="#1a1a1a" stroke-width="0.20">diversity distance</text>
<text x="291.01" y="248.00" font-size="9.75" textLength="53.89" lengthAdjust="spacingAndGlyphs" fill="#1a1a1a" stroke="#1a1a1a" stroke-width="0.20">Less diverse</text>
<text x="375.61" y="248.00" font-size="9.75" textLength="55.49" lengthAdjust="spacingAndGlyphs" fill="#1a1a1a" stroke="#1a1a1a" stroke-width="0.20">More diverse</text>
<line x1="286.00" y1="252.20" x2="361.10" y2="252.20" stroke="#2a4fa3" stroke-width="1.8"/>
<path d="M281.00,252.20 L288.20,249.10 L286.70,252.20 L288.20,255.30 Z" fill="#2a4fa3"/>
<line x1="372.60" y1="252.20" x2="437.20" y2="252.20" stroke="#2a4fa3" stroke-width="1.8"/>
<path d="M442.20,252.20 L435.00,249.10 L436.50,252.20 L435.00,255.30 Z" fill="#2a4fa3"/>
<path d="M520.00,58.41 L520.61,59.51 L521.22,60.60 L521.83,61.70 L522.44,62.80 L523.05,63.90 L523.67,64.99 L524.28,66.09 L524.89,67.19 L525.50,68.28 L526.11,69.38 L526.72,70.47 L527.33,71.56 L527.94,72.65 L528.55,73.74 L529.16,74.83 L529.77,75.92 L530.38,77.01 L531.00,78.10 L531.61,79.19 L532.22,80.28 L532.83,81.37 L533.44,82.45 L534.05,83.53 L534.66,84.61 L535.27,85.69 L535.88,86.76 L536.49,87.82 L537.10,88.89 L537.72,89.95 L538.33,91.01 L538.94,92.06 L539.55,93.11 L540.16,94.15 L540.77,95.19 L541.38,96.23 L541.99,97.26 L542.60,98.28 L543.21,99.31 L543.82,100.32 L544.44,101.33 L545.05,102.34 L545.66,103.29 L546.27,104.24 L546.88,105.18 L547.49,106.12 L548.10,107.05 L548.71,107.97 L549.32,108.89 L549.93,109.80 L550.54,110.71 L551.15,111.62 L551.77,112.51 L552.38,113.40 L552.99,114.29 L553.60,115.16 L554.21,116.03 L554.82,116.90 L555.43,117.76 L556.04,118.61 L556.65,119.46 L557.26,120.30 L557.87,121.13 L558.49,121.96 L559.10,122.77 L559.71,123.58 L560.32,124.38 L560.93,125.18 L561.54,125.96 L562.15,126.74 L562.76,127.51 L563.37,128.28 L563.98,129.04 L564.59,129.79 L565.21,130.54 L565.82,131.27 L566.43,132.01 L567.04,132.73 L567.65,133.45 L568.26,134.16 L568.87,134.86 L569.48,135.56 L570.09,136.25 L570.70,136.93 L571.31,137.61 L571.92,138.28 L572.54,138.94 L573.15,139.59 L573.76,140.24 L574.37,140.88 L574.98,141.52 L575.59,142.14 L576.20,142.76 L576.81,143.37 L577.42,143.98 L578.03,144.58 L578.64,145.17 L579.26,145.76 L579.87,146.33 L580.48,146.91 L581.09,147.47 L581.70,148.03 L582.31,148.58 L582.92,149.12 L583.53,149.66 L584.14,150.19 L584.75,150.72 L585.36,151.23 L585.97,151.74 L586.59,152.25 L587.20,152.74 L587.81,153.24 L588.42,153.72 L589.03,154.20 L589.64,154.67 L590.25,155.13 L590.86,155.57 L591.47,156.00 L592.08,156.42 L592.69,156.84 L593.31,157.26 L593.92,157.67 L594.53,158.07 L595.14,158.46 L595.75,158.85 L596.36,159.24 L596.97,159.61 L597.58,159.99 L598.19,160.35 L598.80,160.72 L599.41,161.07 L600.03,161.43 L600.64,161.77 L601.25,162.11 L601.86,162.45 L602.47,162.77 L603.08,163.10 L603.69,163.41 L604.30,163.73 L604.91,164.03 L605.52,164.34 L606.13,164.63 L606.74,164.92 L607.36,165.21 L607.97,165.49 L608.58,165.76 L609.19,166.03 L609.80,166.30 L610.41,166.57 L611.02,166.83 L611.63,167.09 L612.24,167.34 L612.85,167.59 L613.46,167.84 L614.08,168.08 L614.69,168.31 L615.30,168.54 L615.91,168.77 L616.52,168.99 L617.13,169.21 L617.74,169.42 L618.35,169.63 L618.96,169.84 L619.57,170.04 L620.18,170.24 L620.79,170.43 L621.41,170.62 L622.02,170.81 L622.63,170.99 L623.24,171.17 L623.85,171.34 L624.46,171.52 L625.07,171.68 L625.68,171.85 L626.29,172.01 L626.90,172.17 L627.51,172.32 L628.13,172.47 L628.74,172.62 L629.35,172.76 L629.96,172.90 L630.57,173.05 L631.18,173.19 L631.79,173.33 L632.40,173.47 L633.01,173.60 L633.62,173.73 L634.23,173.86 L634.85,173.99 L635.46,174.11 L636.07,174.23 L636.68,174.35 L637.29,174.46 L637.90,174.57 L638.51,174.68 L639.12,174.79 L639.73,174.89 L640.34,174.99 L640.95,175.09 L641.56,175.19 L642.18,175.28 L642.79,175.37 L643.40,175.47 L644.01,175.55 L644.62,175.64 L645.23,175.72 L645.84,175.81 L646.45,175.89 L647.06,175.96 L647.67,176.04 L648.28,176.12 L648.90,176.19 L649.51,176.26 L650.12,176.33 L650.73,176.40 L651.34,176.46 L651.95,176.53 L652.56,176.59 L653.17,176.65 L653.78,176.71 L654.39,176.77 L655.00,176.82 L655.62,176.88 L656.23,176.93 L656.84,176.98 L657.45,177.03 L658.06,177.08 L658.67,177.13 L659.28,177.18 L659.89,177.22 L660.50,177.27 L661.11,177.31 L661.72,177.35 L662.33,177.39 L662.95,177.43 L663.56,177.47 L664.17,177.51 L664.78,177.55 L665.39,177.58 L666.00,177.61 L666.00,178.07 L665.39,178.05 L664.78,178.02 L664.17,178.00 L663.56,177.98 L662.95,177.95 L662.33,177.92 L661.72,177.90 L661.11,177.87 L660.50,177.84 L659.89,177.81 L659.28,177.78 L658.67,177.75 L658.06,177.72 L657.45,177.68 L656.84,177.65 L656.23,177.61 L655.62,177.58 L655.00,177.54 L654.39,177.50 L653.78,177.46 L653.17,177.42 L652.56,177.38 L651.95,177.34 L651.34,177.30 L650.73,177.25 L650.12,177.21 L649.51,177.16 L648.90,177.11 L648.28,177.06 L647.67,177.01 L647.06,176.96 L646.45,176.91 L645.84,176.85 L645.23,176.80 L644.62,176.74 L644.01,176.68 L643.40,176.62 L642.79,176.56 L642.18,176.49 L641.56,176.43 L640.95,176.36 L640.34,176.29 L639.73,176.22 L639.12,176.15 L638.51,176.08 L637.90,176.01 L637.29,175.93 L636.68,175.85 L636.07,175.77 L635.46,175.69 L634.85,175.61 L634.23,175.52 L633.62,175.44 L633.01,175.35 L632.40,175.26 L631.79,175.17 L631.18,175.07 L630.57,174.98 L629.96,174.88 L629.35,174.78 L628.74,174.69 L628.13,174.59 L627.51,174.49 L626.90,174.39 L626.29,174.28 L625.68,174.17 L625.07,174.06 L624.46,173.95 L623.85,173.84 L623.24,173.72 L622.63,173.60 L622.02,173.48 L621.41,173.35 L620.79,173.22 L620.18,173.09 L619.57,172.96 L618.96,172.83 L618.35,172.69 L617.74,172.55 L617.13,172.41 L616.52,172.26 L615.91,172.11 L615.30,171.96 L614.69,171.80 L614.08,171.64 L613.46,171.48 L612.85,171.32 L612.24,171.15 L611.63,170.98 L611.02,170.81 L610.41,170.63 L609.80,170.45 L609.19,170.28 L608.58,170.09 L607.97,169.91 L607.36,169.72 L606.74,169.53 L606.13,169.34 L605.52,169.14 L604.91,168.93 L604.30,168.73 L603.69,168.52 L603.08,168.31 L602.47,168.09 L601.86,167.87 L601.25,167.65 L600.64,167.42 L600.03,167.19 L599.41,166.95 L598.80,166.71 L598.19,166.47 L597.58,166.22 L596.97,165.97 L596.36,165.71 L595.75,165.45 L595.14,165.18 L594.53,164.91 L593.92,164.64 L593.31,164.36 L592.69,164.08 L592.08,163.79 L591.47,163.50 L590.86,163.20 L590.25,162.90 L589.64,162.59 L589.03,162.27 L588.42,161.94 L587.81,161.61 L587.20,161.27 L586.59,160.93 L585.97,160.59 L585.36,160.24 L584.75,159.88 L584.14,159.52 L583.53,159.16 L582.92,158.79 L582.31,158.42 L581.70,158.04 L581.09,157.65 L580.48,157.26 L579.87,156.87 L579.26,156.47 L578.64,156.07 L578.03,155.66 L577.42,155.25 L576.81,154.83 L576.20,154.41 L575.59,153.98 L574.98,153.55 L574.37,153.11 L573.76,152.67 L573.15,152.22 L572.54,151.76 L571.92,151.31 L571.31,150.84 L570.70,150.38 L570.09,149.90 L569.48,149.42 L568.87,148.94 L568.26,148.45 L567.65,147.96 L567.04,147.46 L566.43,146.96 L565.82,146.45 L565.21,145.94 L564.59,145.42 L563.98,144.89 L563.37,144.36 L562.76,143.83 L562.15,143.29 L561.54,142.75 L560.93,142.20 L560.32,141.65 L559.71,141.09 L559.10,140.52 L558.49,139.96 L557.87,139.38 L557.26,138.81 L556.65,138.23 L556.04,137.64 L555.43,137.05 L554.82,136.46 L554.21,135.86 L553.60,135.25 L552.99,134.65 L552.38,134.03 L551.77,133.42 L551.15,132.80 L550.54,132.17 L549.93,131.54 L549.32,130.91 L548.71,130.27 L548.10,129.63 L547.49,128.98 L546.88,128.33 L546.27,127.68 L545.66,127.02 L545.05,126.36 L544.44,125.66 L543.82,124.96 L543.21,124.25 L542.60,123.54 L541.99,122.82 L541.38,122.11 L540.77,121.39 L540.16,120.66 L539.55,119.94 L538.94,119.21 L538.33,118.47 L537.72,117.74 L537.10,117.00 L536.49,116.26 L535.88,115.51 L535.27,114.77 L534.66,114.02 L534.05,113.26 L533.44,112.51 L532.83,111.75 L532.22,110.99 L531.61,110.23 L531.00,109.47 L530.38,108.71 L529.77,107.94 L529.16,107.18 L528.55,106.42 L527.94,105.66 L527.33,104.90 L526.72,104.13 L526.11,103.37 L525.50,102.60 L524.89,101.83 L524.28,101.06 L523.67,100.29 L523.05,99.52 L522.44,98.75 L521.83,97.98 L521.22,97.21 L520.61,96.44 L520.00,95.67 Z" fill="#f3dfac" fill-opacity="1.000"/>
<defs><linearGradient id="rg5" gradientUnits="userSpaceOnUse" x1="519.90" y1="0" x2="665.90" y2="0"><stop offset="0.00000" stop-color="#d49b08" stop-opacity="0.080"/><stop offset="0.03836" stop-color="#d49b08" stop-opacity="0.080"/><stop offset="0.03836" stop-color="#d49b08" stop-opacity="0.100"/><stop offset="0.07055" stop-color="#d49b08" stop-opacity="0.100"/><stop offset="0.07055" stop-color="#d49b08" stop-opacity="0.120"/><stop offset="0.11027" stop-color="#d49b08" stop-opacity="0.120"/><stop offset="0.11027" stop-color="#d49b08" stop-opacity="0.150"/><stop offset="0.14247" stop-color="#d49b08" stop-opacity="0.150"/><stop offset="0.14247" stop-color="#d49b08" stop-opacity="0.170"/><stop offset="0.17466" stop-color="#d49b08" stop-opacity="0.170"/><stop offset="0.17466" stop-color="#d49b08" stop-opacity="0.200"/><stop offset="0.20616" stop-color="#d49b08" stop-opacity="0.200"/><stop offset="0.20616" stop-color="#d49b08" stop-opacity="0.220"/><stop offset="0.24315" stop-color="#d49b08" stop-opacity="0.220"/><stop offset="0.24315" stop-color="#d49b08" stop-opacity="0.260"/><stop offset="0.27466" stop-color="#d49b08" stop-opacity="0.260"/><stop offset="0.27466" stop-color="#d49b08" stop-opacity="0.330"/><stop offset="0.31096" stop-color="#d49b08" stop-opacity="0.330"/><stop offset="0.31096" stop-color="#d49b08" stop-opacity="0.350"/><stop offset="0.34247" stop-color="#d49b08" stop-opacity="0.350"/><stop offset="0.34247" stop-color="#d49b08" stop-opacity="0.370"/><stop offset="0.38219" stop-color="#d49b08" stop-opacity="0.370"/><stop offset="0.38219" stop-color="#d49b08" stop-opacity="0.400"/><stop offset="0.41438" stop-color="#d49b08" stop-opacity="0.400"/><stop offset="0.41438" stop-color="#d49b08" stop-opacity="0.420"/><stop offset="0.44589" stop-color="#d49b08" stop-opacity="0.420"/><stop offset="0.44589" stop-color="#d49b08" stop-opacity="0.450"/><stop offset="0.48219" stop-color="#d49b08" stop-opacity="0.450"/><stop offset="0.48219" stop-color="#d49b08" stop-opacity="0.550"/><stop offset="0.51644" stop-color="#d49b08" stop-opacity="0.550"/><stop offset="0.51644" stop-color="#d49b08" stop-opacity="0.700"/><stop offset="0.55616" stop-color="#d49b08" stop-opacity="0.700"/><stop offset="0.55616" stop-color="#d49b08" stop-opacity="0.800"/><stop offset="0.58836" stop-color="#d49b08" stop-opacity="0.800"/><stop offset="0.58836" stop-color="#d49b08" stop-opacity="0.900"/><stop offset="0.62397" stop-color="#d49b08" stop-opacity="0.900"/><stop offset="0.62397" stop-color="#d49b08" stop-opacity="1.000"/><stop offset="0.89589" stop-color="#d49b08" stop-opacity="1.000"/><stop offset="0.89589" stop-color="#d49b08" stop-opacity="0.600"/><stop offset="0.93219" stop-color="#d49b08" stop-opacity="0.600"/><stop offset="0.93219" stop-color="#d49b08" stop-opacity="0.300"/><stop offset="0.96849" stop-color="#d49b08" stop-opacity="0.300"/><stop offset="0.96849" stop-color="#d49b08" stop-opacity="0.120"/><stop offset="1.00000" stop-color="#d49b08" stop-opacity="0.120"/></linearGradient></defs>
<rect x="519.90" y="181.10" width="146.00" height="11.30" fill="url(#rg5)"/>
<path d="M520.00,78.76 L520.61,79.68 L521.22,80.60 L521.83,81.52 L522.44,82.44 L523.05,83.36 L523.67,84.28 L524.28,85.20 L524.89,86.11 L525.50,87.03 L526.11,87.95 L526.72,88.86 L527.33,89.78 L527.94,90.69 L528.55,91.60 L529.16,92.51 L529.77,93.42 L530.38,94.33 L531.00,95.24 L531.61,96.16 L532.22,97.07 L532.83,97.97 L533.44,98.88 L534.05,99.78 L534.66,100.68 L535.27,101.58 L535.88,102.48 L536.49,103.37 L537.10,104.26 L537.72,105.14 L538.33,106.02 L538.94,106.90 L539.55,107.78 L540.16,108.65 L540.77,109.51 L541.38,110.38 L541.99,111.24 L542.60,112.09 L543.21,112.95 L543.82,113.79 L544.44,114.64 L545.05,115.47 L545.66,116.27 L546.27,117.06 L546.88,117.84 L547.49,118.62 L548.10,119.40 L548.71,120.17 L549.32,120.93 L549.93,121.70 L550.54,122.45 L551.15,123.20 L551.77,123.95 L552.38,124.69 L552.99,125.43 L553.60,126.16 L554.21,126.88 L554.82,127.60 L555.43,128.32 L556.04,129.03 L556.65,129.73 L557.26,130.43 L557.87,131.12 L558.49,131.81 L559.10,132.49 L559.71,133.16 L560.32,133.83 L560.93,134.50 L561.54,135.15 L562.15,135.80 L562.76,136.45 L563.37,137.09 L563.98,137.72 L564.59,138.35 L565.21,138.97 L565.82,139.59 L566.43,140.20 L567.04,140.80 L567.65,141.40 L568.26,141.99 L568.87,142.58 L569.48,143.16 L570.09,143.73 L570.70,144.30 L571.31,144.86 L571.92,145.42 L572.54,145.97 L573.15,146.51 L573.76,147.05 L574.37,147.59 L574.98,148.11 L575.59,148.63 L576.20,149.15 L576.81,149.66 L577.42,150.16 L578.03,150.66 L578.64,151.15 L579.26,151.64 L579.87,152.12 L580.48,152.59 L581.09,153.06 L581.70,153.52 L582.31,153.98 L582.92,154.43 L583.53,154.87 L584.14,155.31 L584.75,155.75 L585.36,156.18 L585.97,156.60 L586.59,157.02 L587.20,157.43 L587.81,157.84 L588.42,158.24 L589.03,158.63 L589.64,159.02 L590.25,159.40 L590.86,159.76 L591.47,160.12 L592.08,160.47 L592.69,160.82 L593.31,161.16 L593.92,161.50 L594.53,161.83 L595.14,162.16 L595.75,162.48 L596.36,162.80 L596.97,163.11 L597.58,163.41 L598.19,163.72 L598.80,164.01 L599.41,164.31 L600.03,164.59 L600.64,164.88 L601.25,165.15 L601.86,165.43 L602.47,165.70 L603.08,165.96 L603.69,166.22 L604.30,166.48 L604.91,166.73 L605.52,166.98 L606.13,167.22 L606.74,167.46 L607.36,167.69 L607.97,167.92 L608.58,168.15 L609.19,168.37 L609.80,168.58 L610.41,168.80 L611.02,169.02 L611.63,169.23 L612.24,169.44 L612.85,169.64 L613.46,169.84 L614.08,170.04 L614.69,170.23 L615.30,170.42 L615.91,170.61 L616.52,170.79 L617.13,170.97 L617.74,171.14 L618.35,171.31 L618.96,171.48 L619.57,171.65 L620.18,171.81 L620.79,171.97 L621.41,172.12 L622.02,172.28 L622.63,172.43 L623.24,172.57 L623.85,172.71 L624.46,172.85 L625.07,172.99 L625.68,173.13 L626.29,173.26 L626.90,173.39 L627.51,173.51 L628.13,173.64 L628.74,173.76 L629.35,173.87 L629.96,173.99 L630.57,174.11 L631.18,174.23 L631.79,174.34 L632.40,174.45 L633.01,174.56 L633.62,174.67 L634.23,174.78 L634.85,174.88 L635.46,174.98 L636.07,175.08 L636.68,175.17 L637.29,175.27 L637.90,175.36 L638.51,175.45 L639.12,175.54 L639.73,175.62 L640.34,175.71 L640.95,175.79 L641.56,175.87 L642.18,175.95 L642.79,176.03 L643.40,176.10 L644.01,176.17 L644.62,176.25 L645.23,176.31 L645.84,176.38 L646.45,176.45 L647.06,176.51 L647.67,176.58 L648.28,176.64 L648.90,176.70 L649.51,176.76 L650.12,176.81 L650.73,176.87 L651.34,176.92 L651.95,176.98 L652.56,177.03 L653.17,177.08 L653.78,177.13 L654.39,177.17 L655.00,177.22 L655.62,177.27 L656.23,177.31 L656.84,177.35 L657.45,177.39 L658.06,177.43 L658.67,177.47 L659.28,177.51 L659.89,177.55 L660.50,177.59 L661.11,177.62 L661.72,177.65 L662.33,177.69 L662.95,177.72 L663.56,177.75 L664.17,177.78 L664.78,177.81 L665.39,177.84 L666.00,177.87" fill="none" stroke="#d39a10" stroke-width="2.10" stroke-linejoin="round" stroke-linecap="butt"/>
<rect x="513.20" y="52.60" width="159.60" height="141.00" fill="none" stroke="#5f5f5f" stroke-width="1.15"/>
<line x1="509.60" y1="178.90" x2="513.20" y2="178.90" stroke="#333333" stroke-width="1.1"/>
<text x="480.87" y="182.90" font-size="11.00" textLength="26.34" lengthAdjust="spacingAndGlyphs" fill="#1a1a1a" stroke="#1a1a1a" stroke-width="0.20">0.000</text>
<line x1="509.60" y1="135.22" x2="513.20" y2="135.22" stroke="#333333" stroke-width="1.1"/>
<text x="480.87" y="139.22" font-size="11.00" textLength="26.34" lengthAdjust="spacingAndGlyphs" fill="#1a1a1a" stroke="#1a1a1a" stroke-width="0.20">0.040</text>
<line x1="509.60" y1="91.54" x2="513.20" y2="91.54" stroke="#333333" stroke-width="1.1"/>
<text x="480.87" y="95.54" font-size="11.00" textLength="26.34" lengthAdjust="spacingAndGlyphs" fill="#1a1a1a" stroke="#1a1a1a" stroke-width="0.20">0.080</text>
<line x1="520.10" y1="193.60" x2="520.10" y2="197.00" stroke="#333333" stroke-width="1.1"/>
<text x="509.86" y="207.40" font-size="11.00" textLength="20.49" lengthAdjust="spacingAndGlyphs" fill="#1a1a1a" stroke="#1a1a1a" stroke-width="0.20">0.00</text>
<line x1="558.80" y1="193.60" x2="558.80" y2="197.00" stroke="#333333" stroke-width="1.1"/>
<text x="548.57" y="207.40" font-size="11.00" textLength="20.49" lengthAdjust="spacingAndGlyphs" fill="#1a1a1a" stroke="#1a1a1a" stroke-width="0.20">0.25</text>
<line x1="597.50" y1="193.60" x2="597.50" y2="197.00" stroke="#333333" stroke-width="1.1"/>
<text x="587.26" y="207.40" font-size="11.00" textLength="20.49" lengthAdjust="spacingAndGlyphs" fill="#1a1a1a" stroke="#1a1a1a" stroke-width="0.20">0.50</text>
<line x1="636.20" y1="193.60" x2="636.20" y2="197.00" stroke="#333333" stroke-width="1.1"/>
<text x="625.97" y="207.40" font-size="11.00" textLength="20.49" lengthAdjust="spacingAndGlyphs" fill="#1a1a1a" stroke="#1a1a1a" stroke-width="0.20">0.75</text>
<text transform="translate(475.00,123.10) rotate(-90)" x="-63.62" y="0" font-size="11.00" textLength="127.06" lengthAdjust="spacingAndGlyphs" fill="#1a1a1a" stroke="#1a1a1a" stroke-width="0.20">Probability of naturalization</text>
<text x="515.33" y="220.10" font-size="11.00" textLength="157.29" lengthAdjust="spacingAndGlyphs" fill="#1a1a1a" stroke="#1a1a1a" stroke-width="0.20">Floristic phylogenetic dissimilarity</text>
<text x="526.81" y="41.80" font-size="9.75" textLength="128.03" lengthAdjust="spacingAndGlyphs" fill="#1a1a1a" stroke="#1a1a1a" stroke-width="0.20">Dissimilar floristic composition</text>
<line x1="514.00" y1="48.10" x2="665.00" y2="48.10" stroke="#2a4fa3" stroke-width="1.8"/>
<path d="M670.00,48.10 L662.80,45.00 L664.30,48.10 L662.80,51.20 Z" fill="#2a4fa3"/>
<path d="M520.00,377.30 L520.61,376.89 L521.22,376.47 L521.83,376.04 L522.44,375.61 L523.05,375.18 L523.66,374.73 L524.27,374.28 L524.88,373.82 L525.49,373.36 L526.10,372.89 L526.71,372.41 L527.32,371.93 L527.93,371.44 L528.53,370.94 L529.14,370.44 L529.75,369.93 L530.36,369.41 L530.97,368.88 L531.58,368.35 L532.19,367.81 L532.80,367.27 L533.41,366.71 L534.02,366.15 L534.63,365.59 L535.24,365.01 L535.85,364.43 L536.46,363.84 L537.07,363.25 L537.68,362.64 L538.29,362.03 L538.90,361.42 L539.51,360.79 L540.12,360.16 L540.73,359.53 L541.34,358.88 L541.95,358.23 L542.56,357.57 L543.17,356.91 L543.78,356.23 L544.38,355.55 L544.99,354.87 L545.60,354.17 L546.21,353.47 L546.82,352.76 L547.43,352.05 L548.04,351.33 L548.65,350.60 L549.26,349.87 L549.87,349.13 L550.48,348.42 L551.09,347.71 L551.70,347.01 L552.31,346.29 L552.92,345.57 L553.53,344.85 L554.14,344.12 L554.75,343.39 L555.36,342.66 L555.97,341.91 L556.58,341.17 L557.19,340.42 L557.80,339.66 L558.41,338.91 L559.02,338.14 L559.63,337.38 L560.24,336.61 L560.84,335.84 L561.45,335.06 L562.06,334.28 L562.67,333.50 L563.28,332.71 L563.89,331.92 L564.50,331.13 L565.11,330.33 L565.72,329.53 L566.33,328.73 L566.94,327.93 L567.55,327.12 L568.16,326.32 L568.77,325.51 L569.38,324.69 L569.99,323.88 L570.60,323.10 L571.21,322.31 L571.82,321.53 L572.43,320.74 L573.04,319.95 L573.65,319.16 L574.26,318.37 L574.87,317.58 L575.48,316.79 L576.09,316.00 L576.69,315.21 L577.30,314.42 L577.91,313.63 L578.52,312.84 L579.13,312.05 L579.74,311.26 L580.35,310.47 L580.96,309.68 L581.57,308.90 L582.18,308.12 L582.79,307.34 L583.40,306.56 L584.01,305.78 L584.62,305.00 L585.23,304.23 L585.84,303.46 L586.45,302.69 L587.06,301.93 L587.67,301.17 L588.28,300.41 L588.89,299.66 L589.50,298.91 L590.11,298.16 L590.72,297.41 L591.33,296.67 L591.94,295.93 L592.55,295.19 L593.15,294.47 L593.76,293.74 L594.37,293.02 L594.98,292.31 L595.59,291.60 L596.20,290.90 L596.81,290.20 L597.42,289.51 L598.03,288.82 L598.64,288.15 L599.25,287.48 L599.86,286.81 L600.47,286.13 L601.08,285.45 L601.69,284.78 L602.30,284.11 L602.91,283.45 L603.52,282.80 L604.13,282.16 L604.74,281.53 L605.35,280.90 L605.96,280.29 L606.57,279.68 L607.18,279.08 L607.79,278.49 L608.40,277.92 L609.01,277.35 L609.61,276.79 L610.22,276.24 L610.83,275.69 L611.44,275.16 L612.05,274.64 L612.66,274.14 L613.27,273.64 L613.88,273.15 L614.49,272.67 L615.10,272.21 L615.71,271.75 L616.32,271.31 L616.93,270.88 L617.54,270.45 L618.15,270.05 L618.76,269.65 L619.37,269.26 L619.98,268.89 L620.59,268.53 L621.20,268.18 L621.81,267.85 L622.42,267.52 L623.03,267.21 L623.64,266.91 L624.25,266.63 L624.86,266.35 L625.46,266.09 L626.07,265.85 L626.68,265.61 L627.29,265.39 L627.90,265.18 L628.51,264.99 L629.12,264.81 L629.73,264.64 L630.34,264.48 L630.95,264.34 L631.56,264.22 L632.17,264.10 L632.78,264.00 L633.39,263.92 L634.00,263.84 L634.61,263.78 L635.22,263.74 L635.83,263.71 L636.44,263.69 L637.05,263.68 L637.66,263.69 L638.27,263.72 L638.88,263.75 L639.49,263.80 L640.10,263.87 L640.71,263.94 L641.32,264.02 L641.92,264.12 L642.53,264.23 L643.14,264.35 L643.75,264.49 L644.36,264.64 L644.97,264.81 L645.58,264.99 L646.19,265.18 L646.80,265.38 L647.41,265.60 L648.02,265.83 L648.63,266.08 L649.24,266.33 L649.85,266.61 L650.46,266.89 L651.07,267.18 L651.68,267.49 L652.29,267.81 L652.90,268.15 L653.51,268.49 L654.12,268.85 L654.73,269.22 L655.34,269.61 L655.95,270.00 L656.56,270.41 L657.17,270.83 L657.77,271.25 L658.38,271.70 L658.99,272.15 L659.60,272.61 L660.21,273.09 L660.82,273.57 L661.43,274.07 L662.04,274.58 L662.65,275.09 L663.26,275.62 L663.87,276.16 L664.48,276.71 L665.09,277.27 L665.70,277.83 L665.70,312.26 L665.09,311.83 L664.48,311.42 L663.87,311.01 L663.26,310.60 L662.65,310.21 L662.04,309.82 L661.43,309.43 L660.82,309.06 L660.21,308.69 L659.60,308.33 L658.99,307.98 L658.38,307.64 L657.77,307.30 L657.17,306.97 L656.56,306.65 L655.95,306.34 L655.34,306.04 L654.73,305.74 L654.12,305.46 L653.51,305.18 L652.90,304.91 L652.29,304.65 L651.68,304.40 L651.07,304.15 L650.46,303.92 L649.85,303.70 L649.24,303.48 L648.63,303.27 L648.02,303.08 L647.41,302.89 L646.80,302.71 L646.19,302.54 L645.58,302.38 L644.97,302.23 L644.36,302.09 L643.75,301.96 L643.14,301.84 L642.53,301.72 L641.92,301.62 L641.32,301.53 L640.71,301.45 L640.10,301.37 L639.49,301.32 L638.88,301.27 L638.27,301.23 L637.66,301.20 L637.05,301.18 L636.44,301.17 L635.83,301.18 L635.22,301.19 L634.61,301.21 L634.00,301.24 L633.39,301.28 L632.78,301.33 L632.17,301.39 L631.56,301.46 L630.95,301.54 L630.34,301.63 L629.73,301.73 L629.12,301.84 L628.51,301.96 L627.90,302.09 L627.29,302.23 L626.68,302.37 L626.07,302.53 L625.46,302.70 L624.86,302.87 L624.25,303.06 L623.64,303.25 L623.03,303.46 L622.42,303.67 L621.81,303.89 L621.20,304.12 L620.59,304.36 L619.98,304.61 L619.37,304.87 L618.76,305.14 L618.15,305.41 L617.54,305.70 L616.93,305.99 L616.32,306.29 L615.71,306.60 L615.10,306.92 L614.49,307.24 L613.88,307.58 L613.27,307.92 L612.66,308.27 L612.05,308.63 L611.44,308.99 L610.83,309.36 L610.22,309.74 L609.61,310.13 L609.01,310.53 L608.40,310.93 L607.79,311.34 L607.18,311.75 L606.57,312.17 L605.96,312.60 L605.35,313.04 L604.74,313.48 L604.13,313.93 L603.52,314.38 L602.91,314.84 L602.30,315.31 L601.69,315.78 L601.08,316.26 L600.47,316.74 L599.86,317.23 L599.25,317.70 L598.64,318.18 L598.03,318.66 L597.42,319.14 L596.81,319.63 L596.20,320.13 L595.59,320.63 L594.98,321.14 L594.37,321.64 L593.76,322.16 L593.15,322.67 L592.55,323.19 L591.94,323.72 L591.33,324.25 L590.72,324.78 L590.11,325.31 L589.50,325.85 L588.89,326.40 L588.28,326.94 L587.67,327.49 L587.06,328.05 L586.45,328.60 L585.84,329.16 L585.23,329.72 L584.62,330.28 L584.01,330.84 L583.40,331.41 L582.79,331.97 L582.18,332.54 L581.57,333.11 L580.96,333.68 L580.35,334.25 L579.74,334.82 L579.13,335.39 L578.52,335.97 L577.91,336.54 L577.30,337.11 L576.69,337.69 L576.09,338.26 L575.48,338.84 L574.87,339.41 L574.26,339.99 L573.65,340.56 L573.04,341.13 L572.43,341.70 L571.82,342.28 L571.21,342.85 L570.60,343.42 L569.99,343.99 L569.38,344.58 L568.77,345.17 L568.16,345.76 L567.55,346.34 L566.94,346.93 L566.33,347.51 L565.72,348.09 L565.11,348.67 L564.50,349.25 L563.89,349.82 L563.28,350.40 L562.67,350.97 L562.06,351.54 L561.45,352.10 L560.84,352.67 L560.24,353.23 L559.63,353.79 L559.02,354.34 L558.41,354.90 L557.80,355.45 L557.19,356.00 L556.58,356.54 L555.97,357.08 L555.36,357.62 L554.75,358.15 L554.14,358.69 L553.53,359.21 L552.92,359.74 L552.31,360.26 L551.70,360.78 L551.09,361.29 L550.48,361.80 L549.87,362.30 L549.26,362.77 L548.65,363.24 L548.04,363.70 L547.43,364.16 L546.82,364.62 L546.21,365.07 L545.60,365.52 L544.99,365.97 L544.38,366.41 L543.78,366.85 L543.17,367.29 L542.56,367.73 L541.95,368.16 L541.34,368.59 L540.73,369.01 L540.12,369.43 L539.51,369.85 L538.90,370.26 L538.29,370.67 L537.68,371.08 L537.07,371.48 L536.46,371.88 L535.85,372.28 L535.24,372.67 L534.63,373.06 L534.02,373.44 L533.41,373.83 L532.80,374.20 L532.19,374.58 L531.58,374.95 L530.97,375.31 L530.36,375.68 L529.75,376.03 L529.14,376.39 L528.53,376.74 L527.93,377.09 L527.32,377.43 L526.71,377.77 L526.10,378.10 L525.49,378.44 L524.88,378.76 L524.27,379.09 L523.66,379.41 L523.05,379.72 L522.44,380.04 L521.83,380.35 L521.22,380.65 L520.61,380.95 L520.00,381.25 Z" fill="#dcdfdf" fill-opacity="1.000"/>
<defs><linearGradient id="rg6" gradientUnits="userSpaceOnUse" x1="519.90" y1="0" x2="665.90" y2="0"><stop offset="0.00000" stop-color="#7f8786" stop-opacity="0.147"/><stop offset="0.03425" stop-color="#7f8786" stop-opacity="0.147"/><stop offset="0.03425" stop-color="#7f8786" stop-opacity="0.281"/><stop offset="0.07055" stop-color="#7f8786" stop-opacity="0.281"/><stop offset="0.07055" stop-color="#7f8786" stop-opacity="0.423"/><stop offset="0.10616" stop-color="#7f8786" stop-opacity="0.423"/><stop offset="0.10616" stop-color="#7f8786" stop-opacity="0.532"/><stop offset="0.13836" stop-color="#7f8786" stop-opacity="0.532"/><stop offset="0.13836" stop-color="#7f8786" stop-opacity="0.616"/><stop offset="0.17466" stop-color="#7f8786" stop-opacity="0.616"/><stop offset="0.17466" stop-color="#7f8786" stop-opacity="0.656"/><stop offset="0.21027" stop-color="#7f8786" stop-opacity="0.656"/><stop offset="0.21027" stop-color="#7f8786" stop-opacity="0.687"/><stop offset="0.24247" stop-color="#7f8786" stop-opacity="0.687"/><stop offset="0.24247" stop-color="#7f8786" stop-opacity="0.716"/><stop offset="0.27877" stop-color="#7f8786" stop-opacity="0.716"/><stop offset="0.27877" stop-color="#7f8786" stop-opacity="0.736"/><stop offset="0.31438" stop-color="#7f8786" stop-opacity="0.736"/><stop offset="0.31438" stop-color="#7f8786" stop-opacity="0.833"/><stop offset="0.35068" stop-color="#7f8786" stop-opacity="0.833"/><stop offset="0.35068" stop-color="#7f8786" stop-opacity="0.973"/><stop offset="0.38219" stop-color="#7f8786" stop-opacity="0.973"/><stop offset="0.38219" stop-color="#7f8786" stop-opacity="0.945"/><stop offset="0.41849" stop-color="#7f8786" stop-opacity="0.945"/><stop offset="0.41849" stop-color="#7f8786" stop-opacity="0.927"/><stop offset="0.45479" stop-color="#7f8786" stop-opacity="0.927"/><stop offset="0.45479" stop-color="#7f8786" stop-opacity="0.954"/><stop offset="0.49041" stop-color="#7f8786" stop-opacity="0.954"/><stop offset="0.49041" stop-color="#7f8786" stop-opacity="0.945"/><stop offset="0.51986" stop-color="#7f8786" stop-opacity="0.945"/><stop offset="0.51986" stop-color="#7f8786" stop-opacity="0.927"/><stop offset="0.55616" stop-color="#7f8786" stop-opacity="0.927"/><stop offset="0.55616" stop-color="#7f8786" stop-opacity="1.000"/><stop offset="0.58836" stop-color="#7f8786" stop-opacity="1.000"/><stop offset="0.58836" stop-color="#7f8786" stop-opacity="0.973"/><stop offset="0.62397" stop-color="#7f8786" stop-opacity="0.973"/><stop offset="0.62397" stop-color="#7f8786" stop-opacity="0.908"/><stop offset="0.65616" stop-color="#7f8786" stop-opacity="0.908"/><stop offset="0.65616" stop-color="#7f8786" stop-opacity="0.852"/><stop offset="0.68836" stop-color="#7f8786" stop-opacity="0.852"/><stop offset="0.68836" stop-color="#7f8786" stop-opacity="0.756"/><stop offset="0.72397" stop-color="#7f8786" stop-opacity="0.756"/><stop offset="0.72397" stop-color="#7f8786" stop-opacity="0.656"/><stop offset="0.75616" stop-color="#7f8786" stop-opacity="0.656"/><stop offset="0.75616" stop-color="#7f8786" stop-opacity="0.585"/><stop offset="0.79247" stop-color="#7f8786" stop-opacity="0.585"/><stop offset="0.79247" stop-color="#7f8786" stop-opacity="0.511"/><stop offset="0.82808" stop-color="#7f8786" stop-opacity="0.511"/><stop offset="0.82808" stop-color="#7f8786" stop-opacity="0.423"/><stop offset="0.86027" stop-color="#7f8786" stop-opacity="0.423"/><stop offset="0.86027" stop-color="#7f8786" stop-opacity="0.306"/><stop offset="0.89589" stop-color="#7f8786" stop-opacity="0.306"/><stop offset="0.89589" stop-color="#7f8786" stop-opacity="0.243"/><stop offset="0.93219" stop-color="#7f8786" stop-opacity="0.243"/><stop offset="0.93219" stop-color="#7f8786" stop-opacity="0.176"/><stop offset="0.96849" stop-color="#7f8786" stop-opacity="0.176"/><stop offset="0.96849" stop-color="#7f8786" stop-opacity="0.117"/><stop offset="1.00000" stop-color="#7f8786" stop-opacity="0.117"/></linearGradient></defs>
<rect x="519.90" y="385.70" width="146.00" height="11.80" fill="url(#rg6)"/>
<path d="M520.00,379.38 L520.61,379.03 L521.22,378.68 L521.83,378.32 L522.44,377.95 L523.05,377.58 L523.66,377.21 L524.27,376.83 L524.88,376.44 L525.49,376.05 L526.10,375.65 L526.71,375.25 L527.32,374.85 L527.93,374.44 L528.53,374.02 L529.14,373.60 L529.75,373.17 L530.36,372.74 L530.97,372.30 L531.58,371.86 L532.19,371.41 L532.80,370.96 L533.41,370.50 L534.02,370.04 L534.63,369.57 L535.24,369.10 L535.85,368.62 L536.46,368.14 L537.07,367.65 L537.68,367.16 L538.29,366.66 L538.90,366.15 L539.51,365.64 L540.12,365.13 L540.73,364.61 L541.34,364.09 L541.95,363.56 L542.56,363.02 L543.17,362.48 L543.78,361.94 L544.38,361.39 L544.99,360.84 L545.60,360.28 L546.21,359.72 L546.82,359.15 L547.43,358.58 L548.04,358.00 L548.65,357.42 L549.26,356.83 L549.87,356.24 L550.48,355.65 L551.09,355.05 L551.70,354.44 L552.31,353.83 L552.92,353.22 L553.53,352.61 L554.14,351.99 L554.75,351.36 L555.36,350.73 L555.97,350.10 L556.58,349.47 L557.19,348.83 L557.80,348.19 L558.41,347.54 L559.02,346.89 L559.63,346.24 L560.24,345.58 L560.84,344.92 L561.45,344.26 L562.06,343.60 L562.67,342.93 L563.28,342.26 L563.89,341.59 L564.50,340.91 L565.11,340.23 L565.72,339.55 L566.33,338.87 L566.94,338.19 L567.55,337.50 L568.16,336.81 L568.77,336.12 L569.38,335.43 L569.99,334.74 L570.60,334.07 L571.21,333.40 L571.82,332.73 L572.43,332.06 L573.04,331.39 L573.65,330.71 L574.26,330.04 L574.87,329.37 L575.48,328.69 L576.09,328.02 L576.69,327.35 L577.30,326.67 L577.91,326.00 L578.52,325.32 L579.13,324.65 L579.74,323.98 L580.35,323.31 L580.96,322.64 L581.57,321.97 L582.18,321.30 L582.79,320.64 L583.40,319.97 L584.01,319.31 L584.62,318.65 L585.23,317.99 L585.84,317.34 L586.45,316.68 L587.06,316.03 L587.67,315.38 L588.28,314.74 L588.89,314.09 L589.50,313.46 L590.11,312.82 L590.72,312.19 L591.33,311.56 L591.94,310.93 L592.55,310.31 L593.15,309.70 L593.76,309.09 L594.37,308.48 L594.98,307.88 L595.59,307.28 L596.20,306.68 L596.81,306.10 L597.42,305.51 L598.03,304.94 L598.64,304.37 L599.25,303.80 L599.86,303.24 L600.47,302.67 L601.08,302.09 L601.69,301.53 L602.30,300.97 L602.91,300.41 L603.52,299.86 L604.13,299.32 L604.74,298.79 L605.35,298.27 L605.96,297.75 L606.57,297.24 L607.18,296.74 L607.79,296.24 L608.40,295.75 L609.01,295.28 L609.61,294.81 L610.22,294.34 L610.83,293.89 L611.44,293.45 L612.05,293.01 L612.66,292.58 L613.27,292.17 L613.88,291.76 L614.49,291.36 L615.10,290.97 L615.71,290.59 L616.32,290.22 L616.93,289.86 L617.54,289.51 L618.15,289.17 L618.76,288.84 L619.37,288.51 L619.98,288.20 L620.59,287.90 L621.20,287.62 L621.81,287.34 L622.42,287.07 L623.03,286.81 L623.64,286.56 L624.25,286.33 L624.86,286.10 L625.46,285.89 L626.07,285.69 L626.68,285.49 L627.29,285.31 L627.90,285.14 L628.51,284.98 L629.12,284.84 L629.73,284.70 L630.34,284.58 L630.95,284.47 L631.56,284.36 L632.17,284.27 L632.78,284.20 L633.39,284.13 L634.00,284.07 L634.61,284.03 L635.22,284.00 L635.83,283.98 L636.44,283.97 L637.05,283.97 L637.66,283.99 L638.27,284.02 L638.88,284.05 L639.49,284.10 L640.10,284.16 L640.71,284.24 L641.32,284.32 L641.92,284.42 L642.53,284.52 L643.14,284.64 L643.75,284.77 L644.36,284.92 L644.97,285.07 L645.58,285.23 L646.19,285.41 L646.80,285.59 L647.41,285.79 L648.02,286.00 L648.63,286.22 L649.24,286.45 L649.85,286.69 L650.46,286.95 L651.07,287.21 L651.68,287.48 L652.29,287.77 L652.90,288.06 L653.51,288.37 L654.12,288.69 L654.73,289.01 L655.34,289.35 L655.95,289.69 L656.56,290.05 L657.17,290.42 L657.77,290.79 L658.38,291.18 L658.99,291.57 L659.60,291.98 L660.21,292.39 L660.82,292.81 L661.43,293.24 L662.04,293.68 L662.65,294.13 L663.26,294.59 L663.87,295.06 L664.48,295.53 L665.09,296.01 L665.70,296.51" fill="none" stroke="#7e8686" stroke-width="1.90" stroke-linejoin="round" stroke-linecap="butt"/>
<rect x="513.00" y="256.50" width="159.70" height="141.30" fill="none" stroke="#5f5f5f" stroke-width="1.15"/>
<line x1="509.40" y1="397.30" x2="513.00" y2="397.30" stroke="#333333" stroke-width="1.1"/>
<text x="480.67" y="401.30" font-size="11.00" textLength="26.34" lengthAdjust="spacingAndGlyphs" fill="#1a1a1a" stroke="#1a1a1a" stroke-width="0.20">0.000</text>
<line x1="509.40" y1="369.75" x2="513.00" y2="369.75" stroke="#333333" stroke-width="1.1"/>
<text x="480.79" y="373.75" font-size="11.00" textLength="26.34" lengthAdjust="spacingAndGlyphs" fill="#1a1a1a" stroke="#1a1a1a" stroke-width="0.20">0.002</text>
<line x1="509.40" y1="342.20" x2="513.00" y2="342.20" stroke="#333333" stroke-width="1.1"/>
<text x="480.70" y="346.20" font-size="11.00" textLength="26.34" lengthAdjust="spacingAndGlyphs" fill="#1a1a1a" stroke="#1a1a1a" stroke-width="0.20">0.005</text>
<line x1="509.40" y1="314.65" x2="513.00" y2="314.65" stroke="#333333" stroke-width="1.1"/>
<text x="480.71" y="318.65" font-size="11.00" textLength="26.34" lengthAdjust="spacingAndGlyphs" fill="#1a1a1a" stroke="#1a1a1a" stroke-width="0.20">0.008</text>
<line x1="509.40" y1="287.10" x2="513.00" y2="287.10" stroke="#333333" stroke-width="1.1"/>
<text x="480.67" y="291.10" font-size="11.00" textLength="26.34" lengthAdjust="spacingAndGlyphs" fill="#1a1a1a" stroke="#1a1a1a" stroke-width="0.20">0.010</text>
<line x1="509.40" y1="259.55" x2="513.00" y2="259.55" stroke="#333333" stroke-width="1.1"/>
<text x="480.79" y="263.55" font-size="11.00" textLength="26.34" lengthAdjust="spacingAndGlyphs" fill="#1a1a1a" stroke="#1a1a1a" stroke-width="0.20">0.012</text>
<line x1="519.80" y1="397.80" x2="519.80" y2="401.20" stroke="#333333" stroke-width="1.1"/>
<text x="516.87" y="412.20" font-size="11.00" textLength="5.85" lengthAdjust="spacingAndGlyphs" fill="#1a1a1a" stroke="#1a1a1a" stroke-width="0.20">0</text>
<line x1="556.30" y1="397.80" x2="556.30" y2="401.20" stroke="#333333" stroke-width="1.1"/>
<text x="544.59" y="412.20" font-size="11.00" textLength="23.42" lengthAdjust="spacingAndGlyphs" fill="#1a1a1a" stroke="#1a1a1a" stroke-width="0.20">5000</text>
<line x1="592.80" y1="397.80" x2="592.80" y2="401.20" stroke="#333333" stroke-width="1.1"/>
<text x="577.97" y="412.20" font-size="11.00" textLength="29.27" lengthAdjust="spacingAndGlyphs" fill="#1a1a1a" stroke="#1a1a1a" stroke-width="0.20">10000</text>
<line x1="629.30" y1="397.80" x2="629.30" y2="401.20" stroke="#333333" stroke-width="1.1"/>
<text x="614.47" y="412.20" font-size="11.00" textLength="29.27" lengthAdjust="spacingAndGlyphs" fill="#1a1a1a" stroke="#1a1a1a" stroke-width="0.20">15000</text>
<line x1="665.80" y1="397.80" x2="665.80" y2="401.20" stroke="#333333" stroke-width="1.1"/>
<text x="651.10" y="412.20" font-size="11.00" textLength="29.27" lengthAdjust="spacingAndGlyphs" fill="#1a1a1a" stroke="#1a1a1a" stroke-width="0.20">20000</text>
<text transform="translate(475.00,327.20) rotate(-90)" x="-63.62" y="0" font-size="11.00" textLength="127.06" lengthAdjust="spacingAndGlyphs" fill="#1a1a1a" stroke="#1a1a1a" stroke-width="0.20">Probability of naturalization</text>
<text x="532.56" y="425.00" font-size="11.00" textLength="130.60" lengthAdjust="spacingAndGlyphs" fill="#1a1a1a" stroke="#1a1a1a" stroke-width="0.20">Geographical distance (km)</text>
<text x="541.62" y="245.80" font-size="9.75" textLength="94.99" lengthAdjust="spacingAndGlyphs" fill="#1a1a1a" stroke="#1a1a1a" stroke-width="0.20">Geographically distant</text>
<line x1="516.20" y1="252.20" x2="662.80" y2="252.20" stroke="#2a4fa3" stroke-width="1.8"/>
<path d="M667.80,252.20 L660.60,249.10 L662.10,252.20 L660.60,255.30 Z" fill="#2a4fa3"/>
</svg></body></html>
